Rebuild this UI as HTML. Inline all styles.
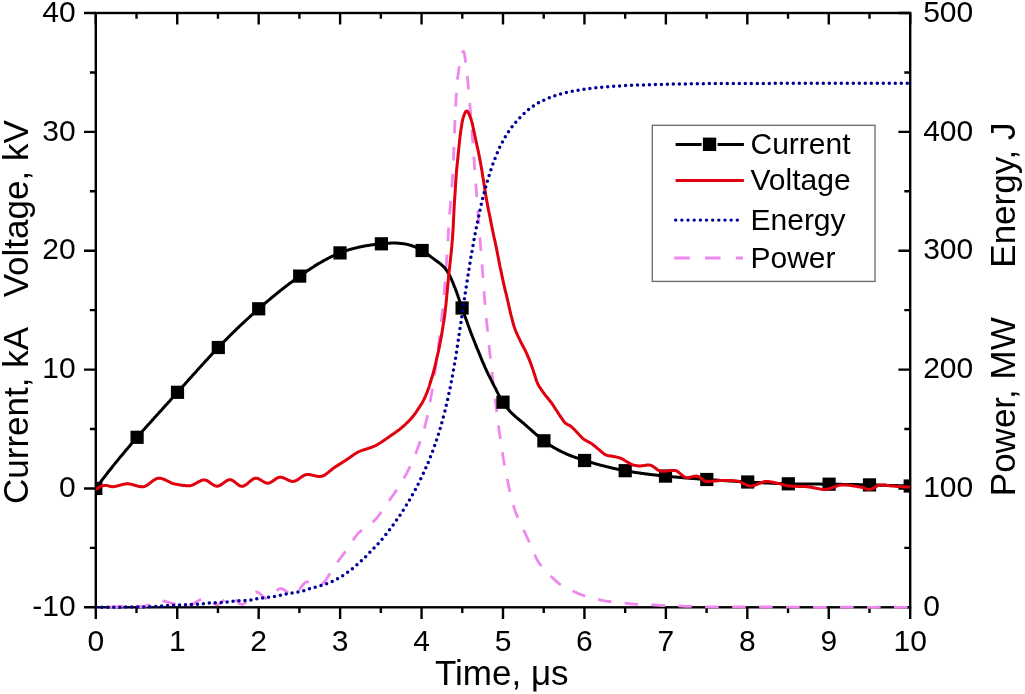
<!DOCTYPE html>
<html><head><meta charset="utf-8"><style>
html,body{margin:0;padding:0;background:#fff;width:1025px;height:694px;overflow:hidden}
svg{display:block;will-change:transform;font-family:"Liberation Sans",sans-serif}
</style></head><body>
<svg width="1025" height="694" viewBox="0 0 1025 694">
<defs><clipPath id="pc"><rect x="95.80" y="11.00" width="814.40" height="598.30"/></clipPath></defs>
<g stroke="#000" stroke-width="2.4" fill="none">
<rect x="95.80" y="13.00" width="814.40" height="594.30"/>
<path d="M95.80,607.30V618.90 M95.80,13.00V24.60 M136.52,607.30V613.10 M136.52,13.00V18.80 M177.24,607.30V618.90 M177.24,13.00V24.60 M217.96,607.30V613.10 M217.96,13.00V18.80 M258.68,607.30V618.90 M258.68,13.00V24.60 M299.40,607.30V613.10 M299.40,13.00V18.80 M340.12,607.30V618.90 M340.12,13.00V24.60 M380.84,607.30V613.10 M380.84,13.00V18.80 M421.56,607.30V618.90 M421.56,13.00V24.60 M462.28,607.30V613.10 M462.28,13.00V18.80 M503.00,607.30V618.90 M503.00,13.00V24.60 M543.72,607.30V613.10 M543.72,13.00V18.80 M584.44,607.30V618.90 M584.44,13.00V24.60 M625.16,607.30V613.10 M625.16,13.00V18.80 M665.88,607.30V618.90 M665.88,13.00V24.60 M706.60,607.30V613.10 M706.60,13.00V18.80 M747.32,607.30V618.90 M747.32,13.00V24.60 M788.04,607.30V613.10 M788.04,13.00V18.80 M828.76,607.30V618.90 M828.76,13.00V24.60 M869.48,607.30V613.10 M869.48,13.00V18.80 M910.20,607.30V618.90 M910.20,13.00V24.60 M95.80,607.30H84.00 M910.20,607.30H898.40 M95.80,547.87H89.90 M910.20,547.87H904.30 M95.80,488.44H84.00 M910.20,488.44H898.40 M95.80,429.01H89.90 M910.20,429.01H904.30 M95.80,369.58H84.00 M910.20,369.58H898.40 M95.80,310.15H89.90 M910.20,310.15H904.30 M95.80,250.72H84.00 M910.20,250.72H898.40 M95.80,191.29H89.90 M910.20,191.29H904.30 M95.80,131.86H84.00 M910.20,131.86H898.40 M95.80,72.43H89.90 M910.20,72.43H904.30 M95.80,13.00H84.00 M910.20,13.00H898.40"/>
</g>
<g clip-path="url(#pc)" fill="none">
<path d="M95.8,607.3 L96.2,607.3 L96.6,607.3 L97.0,607.3 L97.4,607.3 L97.8,607.3 L98.2,607.3 L98.7,607.3 L99.1,607.3 L99.5,607.2 L99.9,607.2 L100.3,607.2 L100.7,607.2 L101.1,607.2 L101.5,607.2 L101.9,607.1 L102.3,607.1 L102.7,607.1 L103.1,607.1 L103.5,607.1 L103.9,607.0 L104.4,607.0 L104.8,607.0 L105.2,607.0 L105.6,607.0 L106.0,607.0 L106.4,606.9 L106.8,606.9 L107.2,606.9 L107.6,606.9 L108.0,606.9 L108.4,606.9 L108.8,607.0 L109.2,607.0 L109.6,607.0 L110.1,607.0 L110.5,607.0 L110.9,607.0 L111.3,607.0 L111.7,607.0 L112.1,607.0 L112.5,607.0 L112.9,607.0 L113.3,607.0 L113.7,606.9 L114.1,606.9 L114.5,606.9 L114.9,606.9 L115.3,606.9 L115.8,606.8 L116.2,606.8 L116.6,606.8 L117.0,606.7 L117.4,606.7 L117.8,606.7 L118.2,606.6 L118.6,606.6 L119.0,606.6 L119.4,606.5 L119.8,606.5 L120.2,606.4 L120.6,606.4 L121.0,606.3 L121.5,606.3 L121.9,606.2 L122.3,606.2 L122.7,606.2 L123.1,606.1 L123.5,606.1 L123.9,606.0 L124.3,606.0 L124.7,605.9 L125.1,605.9 L125.5,605.9 L125.9,605.8 L126.3,605.8 L126.7,605.8 L127.2,605.8 L127.6,605.7 L128.0,605.7 L128.4,605.7 L128.8,605.7 L129.2,605.7 L129.6,605.7 L130.0,605.7 L130.4,605.7 L130.8,605.7 L131.2,605.7 L131.6,605.8 L132.0,605.8 L132.4,605.8 L132.9,605.8 L133.3,605.9 L133.7,605.9 L134.1,605.9 L134.5,606.0 L134.9,606.0 L135.3,606.1 L135.7,606.1 L136.1,606.1 L136.5,606.2 L136.9,606.2 L137.3,606.2 L137.7,606.3 L138.1,606.3 L138.6,606.4 L139.0,606.4 L139.4,606.4 L139.8,606.4 L140.2,606.5 L140.6,606.5 L141.0,606.5 L141.4,606.5 L141.8,606.5 L142.2,606.5 L142.6,606.5 L143.0,606.5 L143.4,606.4 L143.8,606.4 L144.3,606.3 L144.7,606.3 L145.1,606.2 L145.5,606.1 L145.9,605.9 L146.3,605.8 L146.7,605.7 L147.1,605.5 L147.5,605.4 L147.9,605.2 L148.3,605.1 L148.7,604.9 L149.1,604.7 L149.6,604.5 L150.0,604.3 L150.4,604.1 L150.8,603.9 L151.2,603.7 L151.6,603.5 L152.0,603.3 L152.4,603.1 L152.8,602.9 L153.2,602.7 L153.6,602.5 L154.0,602.3 L154.4,602.1 L154.8,602.0 L155.3,601.8 L155.7,601.6 L156.1,601.5 L156.5,601.3 L156.9,601.2 L157.3,601.1 L157.7,601.0 L158.1,600.9 L158.5,600.8 L158.9,600.8 L159.3,600.8 L159.7,600.7 L160.1,600.7 L160.5,600.7 L161.0,600.7 L161.4,600.8 L161.8,600.8 L162.2,600.8 L162.6,600.9 L163.0,600.9 L163.4,601.0 L163.8,601.1 L164.2,601.2 L164.6,601.2 L165.0,601.3 L165.4,601.4 L165.8,601.5 L166.2,601.6 L166.7,601.8 L167.1,601.9 L167.5,602.0 L167.9,602.1 L168.3,602.2 L168.7,602.4 L169.1,602.5 L169.5,602.6 L169.9,602.7 L170.3,602.8 L170.7,603.0 L171.1,603.1 L171.5,603.2 L171.9,603.3 L172.4,603.4 L172.8,603.5 L173.2,603.6 L173.6,603.7 L174.0,603.7 L174.4,603.8 L174.8,603.9 L175.2,603.9 L175.6,603.9 L176.0,604.0 L176.4,604.0 L176.8,604.1 L177.2,604.1 L177.6,604.2 L178.1,604.2 L178.5,604.2 L178.9,604.3 L179.3,604.3 L179.7,604.4 L180.1,604.4 L180.5,604.5 L180.9,604.5 L181.3,604.5 L181.7,604.6 L182.1,604.6 L182.5,604.6 L182.9,604.7 L183.3,604.7 L183.8,604.7 L184.2,604.8 L184.6,604.8 L185.0,604.8 L185.4,604.8 L185.8,604.8 L186.2,604.9 L186.6,604.9 L187.0,604.9 L187.4,604.9 L187.8,604.9 L188.2,604.9 L188.6,604.9 L189.0,604.9 L189.5,604.9 L189.9,604.8 L190.3,604.7 L190.7,604.7 L191.1,604.5 L191.5,604.4 L191.9,604.3 L192.3,604.1 L192.7,604.0 L193.1,603.8 L193.5,603.6 L193.9,603.4 L194.3,603.2 L194.7,602.9 L195.2,602.7 L195.6,602.5 L196.0,602.2 L196.4,602.0 L196.8,601.7 L197.2,601.5 L197.6,601.2 L198.0,601.0 L198.4,600.7 L198.8,600.5 L199.2,600.2 L199.6,600.0 L200.0,599.8 L200.5,599.6 L200.9,599.4 L201.3,599.2 L201.7,599.0 L202.1,598.8 L202.5,598.7 L202.9,598.6 L203.3,598.5 L203.7,598.4 L204.1,598.4 L204.5,598.4 L204.9,598.4 L205.3,598.4 L205.7,598.5 L206.2,598.6 L206.6,598.8 L207.0,598.9 L207.4,599.1 L207.8,599.4 L208.2,599.6 L208.6,599.9 L209.0,600.1 L209.4,600.4 L209.8,600.7 L210.2,601.0 L210.6,601.3 L211.0,601.6 L211.4,601.9 L211.9,602.2 L212.3,602.5 L212.7,602.8 L213.1,603.1 L213.5,603.4 L213.9,603.6 L214.3,603.9 L214.7,604.1 L215.1,604.2 L215.5,604.4 L215.9,604.5 L216.3,604.6 L216.7,604.7 L217.1,604.7 L217.6,604.6 L218.0,604.6 L218.4,604.4 L218.8,604.3 L219.2,604.1 L219.6,603.9 L220.0,603.6 L220.4,603.3 L220.8,603.0 L221.2,602.7 L221.6,602.3 L222.0,602.0 L222.4,601.6 L222.8,601.2 L223.3,600.8 L223.7,600.4 L224.1,600.0 L224.5,599.6 L224.9,599.2 L225.3,598.9 L225.7,598.5 L226.1,598.1 L226.5,597.8 L226.9,597.5 L227.3,597.2 L227.7,596.9 L228.1,596.7 L228.5,596.5 L229.0,596.3 L229.4,596.2 L229.8,596.1 L230.2,596.1 L230.6,596.1 L231.0,596.2 L231.4,596.3 L231.8,596.5 L232.2,596.7 L232.6,596.9 L233.0,597.2 L233.4,597.5 L233.8,597.9 L234.2,598.3 L234.7,598.7 L235.1,599.1 L235.5,599.5 L235.9,599.9 L236.3,600.3 L236.7,600.8 L237.1,601.2 L237.5,601.6 L237.9,602.0 L238.3,602.4 L238.7,602.8 L239.1,603.1 L239.5,603.4 L239.9,603.7 L240.4,603.9 L240.8,604.1 L241.2,604.2 L241.6,604.3 L242.0,604.3 L242.4,604.3 L242.8,604.2 L243.2,604.1 L243.6,603.9 L244.0,603.7 L244.4,603.4 L244.8,603.1 L245.2,602.7 L245.6,602.4 L246.1,601.9 L246.5,601.5 L246.9,601.0 L247.3,600.6 L247.7,600.1 L248.1,599.6 L248.5,599.0 L248.9,598.5 L249.3,598.0 L249.7,597.5 L250.1,596.9 L250.5,596.4 L250.9,595.9 L251.4,595.4 L251.8,595.0 L252.2,594.5 L252.6,594.1 L253.0,593.7 L253.4,593.3 L253.8,593.0 L254.2,592.7 L254.6,592.5 L255.0,592.3 L255.4,592.1 L255.8,592.0 L256.2,592.0 L256.6,592.0 L257.1,592.1 L257.5,592.2 L257.9,592.4 L258.3,592.6 L258.7,592.8 L259.1,593.1 L259.5,593.4 L259.9,593.7 L260.3,594.0 L260.7,594.4 L261.1,594.8 L261.5,595.1 L261.9,595.5 L262.3,595.9 L262.8,596.3 L263.2,596.6 L263.6,597.0 L264.0,597.3 L264.4,597.6 L264.8,597.9 L265.2,598.2 L265.6,598.5 L266.0,598.7 L266.4,598.8 L266.8,598.9 L267.2,599.0 L267.6,599.0 L268.0,599.0 L268.5,598.9 L268.9,598.8 L269.3,598.6 L269.7,598.3 L270.1,598.0 L270.5,597.7 L270.9,597.4 L271.3,597.0 L271.7,596.6 L272.1,596.1 L272.5,595.7 L272.9,595.2 L273.3,594.7 L273.7,594.2 L274.2,593.7 L274.6,593.2 L275.0,592.7 L275.4,592.2 L275.8,591.8 L276.2,591.3 L276.6,590.9 L277.0,590.5 L277.4,590.1 L277.8,589.7 L278.2,589.4 L278.6,589.2 L279.0,588.9 L279.4,588.8 L279.9,588.7 L280.3,588.6 L280.7,588.6 L281.1,588.6 L281.5,588.7 L281.9,588.8 L282.3,589.0 L282.7,589.1 L283.1,589.3 L283.5,589.6 L283.9,589.8 L284.3,590.1 L284.7,590.3 L285.1,590.6 L285.6,590.9 L286.0,591.3 L286.4,591.6 L286.8,591.9 L287.2,592.2 L287.6,592.5 L288.0,592.8 L288.4,593.1 L288.8,593.4 L289.2,593.7 L289.6,594.0 L290.0,594.2 L290.4,594.4 L290.8,594.6 L291.3,594.8 L291.7,594.9 L292.1,595.0 L292.5,595.0 L292.9,595.0 L293.3,595.0 L293.7,594.9 L294.1,594.7 L294.5,594.5 L294.9,594.3 L295.3,594.0 L295.7,593.7 L296.1,593.3 L296.5,592.9 L297.0,592.5 L297.4,592.0 L297.8,591.5 L298.2,591.1 L298.6,590.5 L299.0,590.0 L299.4,589.5 L299.8,588.9 L300.2,588.4 L300.6,587.8 L301.0,587.3 L301.4,586.7 L301.8,586.2 L302.3,585.7 L302.7,585.2 L303.1,584.7 L303.5,584.3 L303.9,583.8 L304.3,583.4 L304.7,583.1 L305.1,582.7 L305.5,582.5 L305.9,582.2 L306.3,582.0 L306.7,581.9 L307.1,581.8 L307.5,581.8 L308.0,581.8 L308.4,581.8 L308.8,581.8 L309.2,581.8 L309.6,581.9 L310.0,582.0 L310.4,582.1 L310.8,582.2 L311.2,582.3 L311.6,582.4 L312.0,582.6 L312.4,582.7 L312.8,582.9 L313.2,583.0 L313.7,583.2 L314.1,583.3 L314.5,583.5 L314.9,583.6 L315.3,583.8 L315.7,583.9 L316.1,584.0 L316.5,584.1 L316.9,584.3 L317.3,584.4 L317.7,584.5 L318.1,584.5 L318.5,584.6 L318.9,584.6 L319.4,584.6 L319.8,584.6 L320.2,584.6 L320.6,584.6 L321.0,584.4 L321.4,584.3 L321.8,584.1 L322.2,583.8 L322.6,583.5 L323.0,583.2 L323.4,582.8 L323.8,582.4 L324.2,582.0 L324.6,581.5 L325.1,581.0 L325.5,580.5 L325.9,579.9 L326.3,579.3 L326.7,578.8 L327.1,578.1 L327.5,577.5 L327.9,576.9 L328.3,576.2 L328.7,575.5 L329.1,574.9 L329.5,574.2 L329.9,573.5 L330.3,572.8 L330.8,572.1 L331.2,571.4 L331.6,570.7 L332.0,570.0 L332.4,569.4 L332.8,568.7 L333.2,568.1 L333.6,567.4 L334.0,566.8 L334.4,566.2 L334.8,565.6 L335.2,565.1 L335.6,564.5 L336.0,564.0 L336.5,563.4 L336.9,562.9 L337.3,562.4 L337.7,561.8 L338.1,561.3 L338.5,560.7 L338.9,560.2 L339.3,559.6 L339.7,559.1 L340.1,558.6 L340.5,558.0 L340.9,557.5 L341.3,556.9 L341.7,556.4 L342.2,555.8 L342.6,555.3 L343.0,554.7 L343.4,554.2 L343.8,553.6 L344.2,553.1 L344.6,552.5 L345.0,551.9 L345.4,551.4 L345.8,550.8 L346.2,550.3 L346.6,549.7 L347.0,549.1 L347.4,548.6 L347.9,548.0 L348.3,547.4 L348.7,546.8 L349.1,546.2 L349.5,545.6 L349.9,545.0 L350.3,544.3 L350.7,543.7 L351.1,543.1 L351.5,542.5 L351.9,541.9 L352.3,541.2 L352.7,540.6 L353.2,540.0 L353.6,539.4 L354.0,538.8 L354.4,538.2 L354.8,537.6 L355.2,537.1 L355.6,536.5 L356.0,536.0 L356.4,535.5 L356.8,535.0 L357.2,534.5 L357.6,534.0 L358.0,533.5 L358.4,533.1 L358.9,532.7 L359.3,532.3 L359.7,531.9 L360.1,531.6 L360.5,531.2 L360.9,530.8 L361.3,530.5 L361.7,530.2 L362.1,529.8 L362.5,529.5 L362.9,529.2 L363.3,528.9 L363.7,528.6 L364.1,528.3 L364.6,528.0 L365.0,527.7 L365.4,527.5 L365.8,527.2 L366.2,526.9 L366.6,526.6 L367.0,526.3 L367.4,526.1 L367.8,525.8 L368.2,525.5 L368.6,525.2 L369.0,524.9 L369.4,524.6 L369.8,524.3 L370.3,524.0 L370.7,523.7 L371.1,523.4 L371.5,523.1 L371.9,522.8 L372.3,522.4 L372.7,522.1 L373.1,521.7 L373.5,521.4 L373.9,521.0 L374.3,520.6 L374.7,520.2 L375.1,519.8 L375.5,519.3 L376.0,518.9 L376.4,518.4 L376.8,518.0 L377.2,517.5 L377.6,517.0 L378.0,516.5 L378.4,516.0 L378.8,515.5 L379.2,515.0 L379.6,514.4 L380.0,513.9 L380.4,513.4 L380.8,512.8 L381.2,512.2 L381.7,511.7 L382.1,511.1 L382.5,510.5 L382.9,509.9 L383.3,509.3 L383.7,508.8 L384.1,508.2 L384.5,507.6 L384.9,507.0 L385.3,506.4 L385.7,505.8 L386.1,505.2 L386.5,504.6 L386.9,503.9 L387.4,503.3 L387.8,502.7 L388.2,502.1 L388.6,501.5 L389.0,500.9 L389.4,500.3 L389.8,499.8 L390.2,499.2 L390.6,498.6 L391.0,498.0 L391.4,497.4 L391.8,496.8 L392.2,496.3 L392.6,495.7 L393.1,495.1 L393.5,494.6 L393.9,494.0 L394.3,493.4 L394.7,492.8 L395.1,492.2 L395.5,491.7 L395.9,491.1 L396.3,490.5 L396.7,489.9 L397.1,489.3 L397.5,488.7 L397.9,488.1 L398.3,487.4 L398.8,486.8 L399.2,486.2 L399.6,485.5 L400.0,484.9 L400.4,484.2 L400.8,483.5 L401.2,482.9 L401.6,482.2 L402.0,481.5 L402.4,480.8 L402.8,480.1 L403.2,479.4 L403.6,478.7 L404.1,478.0 L404.5,477.2 L404.9,476.5 L405.3,475.8 L405.7,475.0 L406.1,474.3 L406.5,473.6 L406.9,472.8 L407.3,472.0 L407.7,471.2 L408.1,470.5 L408.5,469.7 L408.9,468.9 L409.3,468.1 L409.8,467.2 L410.2,466.4 L410.6,465.6 L411.0,464.7 L411.4,463.9 L411.8,463.0 L412.2,462.1 L412.6,461.2 L413.0,460.3 L413.4,459.4 L413.8,458.5 L414.2,457.5 L414.6,456.5 L415.0,455.4 L415.5,454.3 L415.9,453.2 L416.3,452.0 L416.7,450.9 L417.1,449.7 L417.5,448.6 L417.9,447.5 L418.3,446.4 L418.7,445.4 L419.1,444.3 L419.5,443.2 L419.9,442.1 L420.3,441.0 L420.7,439.8 L421.2,438.7 L421.6,437.5 L422.0,436.3 L422.4,435.1 L422.8,433.8 L423.2,432.5 L423.6,431.2 L424.0,429.8 L424.4,428.4 L424.8,426.9 L425.2,425.3 L425.6,423.7 L426.0,422.0 L426.4,420.2 L426.9,418.4 L427.3,416.5 L427.7,414.5 L428.1,412.5 L428.5,410.5 L428.9,408.4 L429.3,406.2 L429.7,404.1 L430.1,401.9 L430.5,399.6 L430.9,397.3 L431.3,395.0 L431.7,392.7 L432.2,390.3 L432.6,388.0 L433.0,385.5 L433.4,382.9 L433.8,380.3 L434.2,377.6 L434.6,374.8 L435.0,371.9 L435.4,369.0 L435.8,366.1 L436.2,363.1 L436.7,360.0 L437.1,356.9 L437.5,353.8 L437.9,350.6 L438.3,347.4 L438.7,344.2 L439.1,340.9 L439.5,337.5 L439.9,334.0 L440.4,330.5 L440.8,326.8 L441.2,323.1 L441.6,319.3 L442.0,315.4 L442.4,311.3 L442.8,307.2 L443.3,302.9 L443.7,298.5 L444.1,293.9 L444.5,289.1 L444.9,284.2 L445.3,278.9 L445.8,273.3 L446.2,267.3 L446.6,260.9 L447.0,254.3 L447.4,247.6 L447.9,240.8 L448.3,234.1 L448.7,227.6 L449.1,221.3 L449.5,215.5 L450.0,210.0 L450.4,204.9 L450.8,199.9 L451.2,194.8 L451.6,189.5 L452.1,183.9 L452.5,177.8 L452.9,171.0 L453.3,163.1 L453.7,152.9 L454.2,141.4 L454.6,129.8 L455.0,119.5 L455.4,110.7 L455.9,102.2 L456.3,94.3 L456.7,87.5 L457.1,82.0 L457.6,78.2 L458.0,75.3 L458.5,72.1 L458.9,68.8 L459.4,65.6 L459.9,62.5 L460.4,59.7 L461.0,57.3 L461.5,55.1 L462.0,53.3 L462.5,52.2 L462.9,51.7 L463.4,51.5 L463.8,51.7 L464.1,52.5 L464.4,53.9 L464.7,55.8 L465.0,57.8 L465.3,59.8 L465.6,62.0 L465.9,64.5 L466.3,67.1 L466.6,70.0 L467.0,73.1 L467.3,76.6 L467.7,80.4 L468.1,84.5 L468.5,88.8 L468.9,93.2 L469.3,97.8 L469.7,102.5 L470.1,107.3 L470.5,112.1 L470.9,116.8 L471.2,121.6 L471.6,126.6 L472.0,131.8 L472.4,137.2 L472.8,142.7 L473.2,148.3 L473.6,153.8 L474.0,159.2 L474.4,164.6 L474.8,169.9 L475.2,175.3 L475.6,180.7 L476.0,186.0 L476.4,191.3 L476.8,196.5 L477.1,201.7 L477.5,206.8 L477.9,211.8 L478.3,216.9 L478.7,222.0 L479.1,227.0 L479.5,232.1 L479.9,237.3 L480.3,242.4 L480.7,247.5 L481.1,252.7 L481.5,257.9 L481.9,263.1 L482.3,268.3 L482.7,273.6 L483.1,279.0 L483.5,284.3 L483.9,289.6 L484.3,294.7 L484.7,299.8 L485.1,304.7 L485.5,309.4 L485.9,313.9 L486.3,318.3 L486.7,322.7 L487.2,326.9 L487.6,331.1 L488.0,335.2 L488.4,339.2 L488.8,343.1 L489.2,347.0 L489.6,350.8 L490.0,354.6 L490.4,358.3 L490.8,362.1 L491.2,365.7 L491.6,369.4 L492.0,372.9 L492.4,376.4 L492.8,379.9 L493.2,383.3 L493.6,386.7 L494.0,390.1 L494.5,393.4 L494.9,396.7 L495.3,400.0 L495.7,403.2 L496.1,406.5 L496.5,409.7 L496.9,412.9 L497.3,416.1 L497.7,419.3 L498.1,422.4 L498.5,425.6 L498.9,428.7 L499.3,431.7 L499.7,434.8 L500.2,437.7 L500.6,440.6 L501.0,443.4 L501.4,446.2 L501.8,448.9 L502.2,451.5 L502.6,454.0 L503.0,456.5 L503.4,458.9 L503.8,461.2 L504.2,463.6 L504.6,465.8 L505.0,468.0 L505.4,470.2 L505.9,472.3 L506.3,474.3 L506.7,476.4 L507.1,478.4 L507.5,480.3 L507.9,482.3 L508.3,484.2 L508.7,486.1 L509.1,488.0 L509.5,489.8 L509.9,491.7 L510.3,493.4 L510.7,495.2 L511.1,496.9 L511.6,498.6 L512.0,500.2 L512.4,501.8 L512.8,503.3 L513.2,504.7 L513.6,506.1 L514.0,507.4 L514.4,508.7 L514.8,509.9 L515.2,511.0 L515.6,512.2 L516.0,513.2 L516.4,514.3 L516.8,515.3 L517.3,516.2 L517.7,517.2 L518.1,518.1 L518.5,519.1 L518.9,520.0 L519.3,520.9 L519.7,521.8 L520.1,522.7 L520.5,523.6 L520.9,524.5 L521.3,525.3 L521.7,526.2 L522.1,527.1 L522.5,527.9 L523.0,528.8 L523.4,529.6 L523.8,530.4 L524.2,531.3 L524.6,532.1 L525.0,532.9 L525.4,533.8 L525.8,534.6 L526.2,535.4 L526.6,536.3 L527.0,537.2 L527.4,538.1 L527.8,539.0 L528.2,539.9 L528.7,540.8 L529.1,541.7 L529.5,542.6 L529.9,543.5 L530.3,544.5 L530.7,545.4 L531.1,546.3 L531.5,547.2 L531.9,548.1 L532.3,549.1 L532.7,550.0 L533.1,550.9 L533.5,551.8 L533.9,552.8 L534.4,553.8 L534.8,554.7 L535.2,555.7 L535.6,556.6 L536.0,557.5 L536.4,558.4 L536.8,559.2 L537.2,559.9 L537.6,560.6 L538.0,561.3 L538.4,562.0 L538.8,562.6 L539.2,563.2 L539.6,563.8 L540.1,564.3 L540.5,564.9 L540.9,565.4 L541.3,566.0 L541.7,566.5 L542.1,567.0 L542.5,567.5 L542.9,568.0 L543.3,568.5 L543.7,568.9 L544.1,569.4 L544.5,569.9 L544.9,570.3 L545.3,570.8 L545.8,571.2 L546.2,571.7 L546.6,572.1 L547.0,572.5 L547.4,572.9 L547.8,573.3 L548.2,573.7 L548.6,574.1 L549.0,574.5 L549.4,574.8 L549.8,575.2 L550.2,575.6 L550.6,576.0 L551.0,576.4 L551.5,576.8 L551.9,577.2 L552.3,577.6 L552.7,577.9 L553.1,578.3 L553.5,578.7 L553.9,579.1 L554.3,579.5 L554.7,579.9 L555.1,580.2 L555.5,580.6 L555.9,581.0 L556.3,581.3 L556.8,581.7 L557.2,582.0 L557.6,582.4 L558.0,582.7 L558.4,583.1 L558.8,583.4 L559.2,583.7 L559.6,584.1 L560.0,584.4 L560.4,584.7 L560.8,585.0 L561.2,585.3 L561.6,585.6 L562.0,585.9 L562.5,586.2 L562.9,586.5 L563.3,586.8 L563.7,587.1 L564.1,587.3 L564.5,587.6 L564.9,587.8 L565.3,588.0 L565.7,588.2 L566.1,588.4 L566.5,588.6 L566.9,588.7 L567.3,588.9 L567.7,589.1 L568.2,589.2 L568.6,589.4 L569.0,589.5 L569.4,589.6 L569.8,589.8 L570.2,589.9 L570.6,590.1 L571.0,590.3 L571.4,590.4 L571.8,590.6 L572.2,590.8 L572.6,591.0 L573.0,591.1 L573.4,591.3 L573.9,591.5 L574.3,591.7 L574.7,591.9 L575.1,592.1 L575.5,592.3 L575.9,592.4 L576.3,592.6 L576.7,592.8 L577.1,593.0 L577.5,593.2 L577.9,593.3 L578.3,593.5 L578.7,593.7 L579.1,593.8 L579.6,594.0 L580.0,594.2 L580.4,594.4 L580.8,594.5 L581.2,594.7 L581.6,594.8 L582.0,595.0 L582.4,595.2 L582.8,595.3 L583.2,595.4 L583.6,595.6 L584.0,595.7 L584.4,595.8 L584.8,595.9 L585.3,596.0 L585.7,596.1 L586.1,596.3 L586.5,596.4 L586.9,596.5 L587.3,596.6 L587.7,596.6 L588.1,596.7 L588.5,596.8 L588.9,596.9 L589.3,597.0 L589.7,597.1 L590.1,597.2 L590.5,597.3 L591.0,597.4 L591.4,597.5 L591.8,597.6 L592.2,597.7 L592.6,597.8 L593.0,597.9 L593.4,598.1 L593.8,598.2 L594.2,598.3 L594.6,598.4 L595.0,598.5 L595.4,598.6 L595.8,598.7 L596.2,598.8 L596.7,599.0 L597.1,599.1 L597.5,599.2 L597.9,599.3 L598.3,599.4 L598.7,599.5 L599.1,599.6 L599.5,599.7 L599.9,599.8 L600.3,599.9 L600.7,600.0 L601.1,600.1 L601.5,600.2 L601.9,600.3 L602.4,600.4 L602.8,600.5 L603.2,600.6 L603.6,600.7 L604.0,600.8 L604.4,600.9 L604.8,600.9 L605.2,601.0 L605.6,601.1 L606.0,601.1 L606.4,601.2 L606.8,601.2 L607.2,601.3 L607.7,601.3 L608.1,601.4 L608.5,601.4 L608.9,601.5 L609.3,601.5 L609.7,601.5 L610.1,601.6 L610.5,601.6 L610.9,601.7 L611.3,601.7 L611.7,601.7 L612.1,601.8 L612.5,601.8 L612.9,601.8 L613.4,601.9 L613.8,601.9 L614.2,601.9 L614.6,602.0 L615.0,602.0 L615.4,602.1 L615.8,602.1 L616.2,602.1 L616.6,602.2 L617.0,602.2 L617.4,602.2 L617.8,602.3 L618.2,602.3 L618.6,602.4 L619.1,602.4 L619.5,602.4 L619.9,602.5 L620.3,602.5 L620.7,602.6 L621.1,602.6 L621.5,602.7 L621.9,602.7 L622.3,602.8 L622.7,602.8 L623.1,602.9 L623.5,602.9 L623.9,603.0 L624.3,603.0 L624.8,603.1 L625.2,603.2 L625.6,603.2 L626.0,603.3 L626.4,603.3 L626.8,603.4 L627.2,603.4 L627.6,603.5 L628.0,603.5 L628.4,603.6 L628.8,603.6 L629.2,603.7 L629.6,603.7 L630.0,603.8 L630.5,603.8 L630.9,603.9 L631.3,603.9 L631.7,604.0 L632.1,604.0 L632.5,604.0 L632.9,604.1 L633.3,604.1 L633.7,604.1 L634.1,604.1 L634.5,604.2 L634.9,604.2 L635.3,604.2 L635.7,604.2 L636.2,604.2 L636.6,604.3 L637.0,604.3 L637.4,604.3 L637.8,604.3 L638.2,604.3 L638.6,604.3 L639.0,604.4 L639.4,604.4 L639.8,604.4 L640.2,604.4 L640.6,604.4 L641.0,604.4 L641.4,604.4 L641.9,604.4 L642.3,604.4 L642.7,604.4 L643.1,604.4 L643.5,604.4 L643.9,604.4 L644.3,604.5 L644.7,604.5 L645.1,604.5 L645.5,604.5 L645.9,604.5 L646.3,604.5 L646.7,604.5 L647.1,604.5 L647.6,604.5 L648.0,604.5 L648.4,604.5 L648.8,604.5 L649.2,604.5 L649.6,604.5 L650.0,604.5 L650.4,604.6 L650.8,604.6 L651.2,604.6 L651.6,604.7 L652.0,604.7 L652.4,604.7 L652.8,604.8 L653.3,604.8 L653.7,604.8 L654.1,604.9 L654.5,604.9 L654.9,605.0 L655.3,605.0 L655.7,605.0 L656.1,605.1 L656.5,605.1 L656.9,605.2 L657.3,605.2 L657.7,605.2 L658.1,605.3 L658.6,605.3 L659.0,605.3 L659.4,605.4 L659.8,605.4 L660.2,605.4 L660.6,605.4 L661.0,605.4 L661.4,605.5 L661.8,605.5 L662.2,605.5 L662.6,605.5 L663.0,605.5 L663.4,605.5 L663.8,605.5 L664.3,605.5 L664.7,605.5 L665.1,605.5 L665.5,605.5 L665.9,605.5 L666.3,605.5 L666.7,605.5 L667.1,605.5 L667.5,605.5 L667.9,605.5 L668.3,605.5 L668.7,605.5 L669.1,605.5 L669.5,605.5 L670.0,605.5 L670.4,605.5 L670.8,605.5 L671.2,605.5 L671.6,605.5 L672.0,605.5 L672.4,605.5 L672.8,605.5 L673.2,605.5 L673.6,605.5 L674.0,605.6 L674.4,605.6 L674.8,605.6 L675.2,605.6 L675.7,605.6 L676.1,605.6 L676.5,605.6 L676.9,605.7 L677.3,605.7 L677.7,605.7 L678.1,605.7 L678.5,605.8 L678.9,605.8 L679.3,605.9 L679.7,605.9 L680.1,605.9 L680.5,606.0 L680.9,606.0 L681.4,606.0 L681.8,606.1 L682.2,606.1 L682.6,606.1 L683.0,606.2 L683.4,606.2 L683.8,606.2 L684.2,606.3 L684.6,606.3 L685.0,606.3 L685.4,606.3 L685.8,606.3 L686.2,606.3 L686.6,606.4 L687.1,606.4 L687.5,606.4 L687.9,606.4 L688.3,606.4 L688.7,606.4 L689.1,606.4 L689.5,606.4 L689.9,606.3 L690.3,606.3 L690.7,606.3 L691.1,606.3 L691.5,606.3 L691.9,606.3 L692.3,606.3 L692.8,606.3 L693.2,606.3 L693.6,606.3 L694.0,606.3 L694.4,606.3 L694.8,606.3 L695.2,606.3 L695.6,606.3 L696.0,606.3 L696.4,606.3 L696.8,606.3 L697.2,606.3 L697.6,606.3 L698.0,606.3 L698.5,606.4 L698.9,606.4 L699.3,606.4 L699.7,606.4 L700.1,606.4 L700.5,606.5 L700.9,606.5 L701.3,606.5 L701.7,606.5 L702.1,606.6 L702.5,606.6 L702.9,606.6 L703.3,606.7 L703.7,606.7 L704.2,606.7 L704.6,606.7 L705.0,606.7 L705.4,606.8 L705.8,606.8 L706.2,606.8 L706.6,606.8 L707.0,606.8 L707.4,606.8 L707.8,606.8 L708.2,606.8 L708.6,606.8 L709.0,606.8 L709.5,606.8 L709.9,606.8 L710.3,606.8 L710.7,606.8 L711.1,606.8 L711.5,606.8 L711.9,606.8 L712.3,606.8 L712.7,606.8 L713.1,606.8 L713.5,606.8 L713.9,606.8 L714.3,606.8 L714.7,606.8 L715.2,606.8 L715.6,606.8 L716.0,606.8 L716.4,606.8 L716.8,606.8 L717.2,606.8 L717.6,606.8 L718.0,606.8 L718.4,606.8 L718.8,606.8 L719.2,606.8 L719.6,606.8 L720.0,606.8 L720.4,606.8 L720.9,606.8 L721.3,606.8 L721.7,606.8 L722.1,606.8 L722.5,606.8 L722.9,606.8 L723.3,606.8 L723.7,606.8 L724.1,606.8 L724.5,606.8 L724.9,606.8 L725.3,606.8 L725.7,606.8 L726.1,606.8 L726.6,606.8 L727.0,606.8 L727.4,606.8 L727.8,606.8 L728.2,606.8 L728.6,606.8 L729.0,606.8 L729.4,606.8 L729.8,606.8 L730.2,606.8 L730.6,606.8 L731.0,606.8 L731.4,606.8 L731.8,606.8 L732.3,606.8 L732.7,606.8 L733.1,606.8 L733.5,606.8 L733.9,606.8 L734.3,606.8 L734.7,606.8 L735.1,606.8 L735.5,606.9 L735.9,606.9 L736.3,606.9 L736.7,606.9 L737.1,606.9 L737.5,606.9 L738.0,606.9 L738.4,606.9 L738.8,606.9 L739.2,606.9 L739.6,606.9 L740.0,606.9 L740.4,606.9 L740.8,606.9 L741.2,607.0 L741.6,607.0 L742.0,607.0 L742.4,607.0 L742.8,607.0 L743.2,607.0 L743.7,607.0 L744.1,607.0 L744.5,607.1 L744.9,607.1 L745.3,607.1 L745.7,607.1 L746.1,607.1 L746.5,607.1 L746.9,607.1 L747.3,607.1 L747.7,607.1 L748.1,607.1 L748.5,607.2 L748.9,607.2 L749.4,607.2 L749.8,607.2 L750.2,607.2 L750.6,607.2 L751.0,607.2 L751.4,607.2 L751.8,607.2 L752.2,607.2 L752.6,607.2 L753.0,607.2 L753.4,607.2 L753.8,607.1 L754.2,607.1 L754.6,607.1 L755.1,607.1 L755.5,607.1 L755.9,607.1 L756.3,607.1 L756.7,607.1 L757.1,607.1 L757.5,607.1 L757.9,607.1 L758.3,607.1 L758.7,607.1 L759.1,607.1 L759.5,607.0 L759.9,607.0 L760.4,607.0 L760.8,607.0 L761.2,607.0 L761.6,607.0 L762.0,607.0 L762.4,607.0 L762.8,607.0 L763.2,607.0 L763.6,607.0 L764.0,607.0 L764.4,607.0 L764.8,607.0 L765.2,607.0 L765.6,607.0 L766.1,607.0 L766.5,607.0 L766.9,607.0 L767.3,607.0 L767.7,607.0 L768.1,607.0 L768.5,607.0 L768.9,607.0 L769.3,607.0 L769.7,607.0 L770.1,607.0 L770.5,607.0 L770.9,607.0 L771.3,607.0 L771.8,607.0 L772.2,607.0 L772.6,607.0 L773.0,607.0 L773.4,607.0 L773.8,607.0 L774.2,607.0 L774.6,607.1 L775.0,607.1 L775.4,607.1 L775.8,607.1 L776.2,607.1 L776.6,607.1 L777.0,607.1 L777.5,607.1 L777.9,607.1 L778.3,607.1 L778.7,607.1 L779.1,607.1 L779.5,607.1 L779.9,607.1 L780.3,607.1 L780.7,607.1 L781.1,607.1 L781.5,607.1 L781.9,607.1 L782.3,607.1 L782.7,607.1 L783.2,607.1 L783.6,607.2 L784.0,607.2 L784.4,607.2 L784.8,607.2 L785.2,607.2 L785.6,607.2 L786.0,607.2 L786.4,607.2 L786.8,607.2 L787.2,607.2 L787.6,607.2 L788.0,607.2 L788.4,607.2 L788.9,607.2 L789.3,607.2 L789.7,607.2 L790.1,607.2 L790.5,607.2 L790.9,607.2 L791.3,607.2 L791.7,607.2 L792.1,607.2 L792.5,607.2 L792.9,607.2 L793.3,607.2 L793.7,607.2 L794.1,607.2 L794.6,607.2 L795.0,607.2 L795.4,607.2 L795.8,607.2 L796.2,607.2 L796.6,607.2 L797.0,607.2 L797.4,607.2 L797.8,607.2 L798.2,607.2 L798.6,607.2 L799.0,607.2 L799.4,607.2 L799.8,607.2 L800.3,607.2 L800.7,607.2 L801.1,607.2 L801.5,607.2 L801.9,607.2 L802.3,607.2 L802.7,607.2 L803.1,607.2 L803.5,607.2 L803.9,607.2 L804.3,607.2 L804.7,607.2 L805.1,607.2 L805.5,607.2 L806.0,607.2 L806.4,607.2 L806.8,607.2 L807.2,607.2 L807.6,607.2 L808.0,607.2 L808.4,607.2 L808.8,607.2 L809.2,607.2 L809.6,607.2 L810.0,607.3 L810.4,607.3 L810.8,607.3 L811.3,607.3 L811.7,607.3 L812.1,607.3 L812.5,607.3 L812.9,607.3 L813.3,607.3 L813.7,607.3 L814.1,607.3 L814.5,607.3 L814.9,607.3 L815.3,607.3 L815.7,607.3 L816.1,607.3 L816.5,607.3 L817.0,607.3 L817.4,607.3 L817.8,607.3 L818.2,607.3 L818.6,607.3 L819.0,607.3 L819.4,607.3 L819.8,607.3 L820.2,607.3 L820.6,607.3 L821.0,607.3 L821.4,607.3 L821.8,607.3 L822.2,607.3 L822.7,607.3 L823.1,607.3 L823.5,607.3 L823.9,607.3 L824.3,607.3 L824.7,607.3 L825.1,607.3 L825.5,607.3 L825.9,607.3 L826.3,607.3 L826.7,607.3 L827.1,607.3 L827.5,607.3 L827.9,607.3 L828.4,607.3 L828.8,607.3 L829.2,607.3 L829.6,607.3 L830.0,607.3 L830.4,607.3 L830.8,607.3 L831.2,607.3 L831.6,607.3 L832.0,607.3 L832.4,607.3 L832.8,607.3 L833.2,607.3 L833.6,607.3 L834.1,607.2 L834.5,607.2 L834.9,607.2 L835.3,607.2 L835.7,607.2 L836.1,607.2 L836.5,607.2 L836.9,607.2 L837.3,607.2 L837.7,607.2 L838.1,607.2 L838.5,607.2 L838.9,607.2 L839.3,607.2 L839.8,607.2 L840.2,607.2 L840.6,607.2 L841.0,607.2 L841.4,607.2 L841.8,607.2 L842.2,607.2 L842.6,607.2 L843.0,607.2 L843.4,607.2 L843.8,607.2 L844.2,607.2 L844.6,607.2 L845.0,607.2 L845.5,607.2 L845.9,607.2 L846.3,607.2 L846.7,607.2 L847.1,607.2 L847.5,607.2 L847.9,607.2 L848.3,607.2 L848.7,607.2 L849.1,607.2 L849.5,607.2 L849.9,607.2 L850.3,607.2 L850.7,607.2 L851.2,607.2 L851.6,607.2 L852.0,607.2 L852.4,607.2 L852.8,607.2 L853.2,607.2 L853.6,607.2 L854.0,607.2 L854.4,607.2 L854.8,607.2 L855.2,607.2 L855.6,607.2 L856.0,607.2 L856.4,607.2 L856.9,607.2 L857.3,607.2 L857.7,607.2 L858.1,607.2 L858.5,607.2 L858.9,607.2 L859.3,607.3 L859.7,607.3 L860.1,607.3 L860.5,607.3 L860.9,607.3 L861.3,607.3 L861.7,607.3 L862.2,607.3 L862.6,607.3 L863.0,607.3 L863.4,607.3 L863.8,607.3 L864.2,607.3 L864.6,607.3 L865.0,607.3 L865.4,607.3 L865.8,607.3 L866.2,607.3 L866.6,607.3 L867.0,607.3 L867.4,607.3 L867.9,607.3 L868.3,607.3 L868.7,607.3 L869.1,607.3 L869.5,607.3 L869.9,607.3 L870.3,607.3 L870.7,607.3 L871.1,607.3 L871.5,607.3 L871.9,607.3 L872.3,607.3 L872.7,607.3 L873.1,607.3 L873.6,607.3 L874.0,607.3 L874.4,607.3 L874.8,607.3 L875.2,607.3 L875.6,607.3 L876.0,607.2 L876.4,607.2 L876.8,607.2 L877.2,607.2 L877.6,607.2 L878.0,607.2 L878.4,607.2 L878.8,607.2 L879.3,607.2 L879.7,607.2 L880.1,607.2 L880.5,607.2 L880.9,607.2 L881.3,607.2 L881.7,607.2 L882.1,607.2 L882.5,607.2 L882.9,607.2 L883.3,607.2 L883.7,607.2 L884.1,607.2 L884.5,607.2 L885.0,607.2 L885.4,607.2 L885.8,607.2 L886.2,607.2 L886.6,607.2 L887.0,607.2 L887.4,607.2 L887.8,607.2 L888.2,607.2 L888.6,607.2 L889.0,607.2 L889.4,607.2 L889.8,607.2 L890.2,607.2 L890.7,607.2 L891.1,607.2 L891.5,607.2 L891.9,607.2 L892.3,607.2 L892.7,607.2 L893.1,607.2 L893.5,607.2 L893.9,607.2 L894.3,607.2 L894.7,607.2 L895.1,607.2 L895.5,607.2 L895.9,607.2 L896.4,607.2 L896.8,607.3 L897.2,607.3 L897.6,607.3 L898.0,607.3 L898.4,607.3 L898.8,607.3 L899.2,607.3 L899.6,607.3 L900.0,607.3 L900.4,607.3 L900.8,607.3 L901.2,607.3 L901.6,607.3 L902.1,607.3 L902.5,607.3 L902.9,607.3 L903.3,607.3 L903.7,607.3 L904.1,607.3 L904.5,607.3 L904.9,607.3 L905.3,607.3 L905.7,607.3 L906.1,607.3 L906.5,607.3 L906.9,607.3 L907.3,607.3 L907.8,607.3 L908.2,607.3 L908.6,607.3 L909.0,607.3 L909.4,607.3 L909.8,607.3 L910.2,607.3" stroke="#ee88ee" stroke-width="2.8" stroke-dasharray="13.6 13.4" stroke-dashoffset="12.82"/>
<path d="M95.8,488.4 L96.2,487.8 L96.6,487.3 L97.0,486.7 L97.4,486.2 L97.8,485.6 L98.2,485.1 L98.7,484.6 L99.1,484.0 L99.5,483.5 L99.9,482.9 L100.3,482.4 L100.7,481.8 L101.1,481.3 L101.5,480.8 L101.9,480.2 L102.3,479.7 L102.7,479.2 L103.1,478.6 L103.5,478.1 L103.9,477.6 L104.4,477.0 L104.8,476.5 L105.2,476.0 L105.6,475.4 L106.0,474.9 L106.4,474.4 L106.8,473.9 L107.2,473.4 L107.6,472.8 L108.0,472.3 L108.4,471.8 L108.8,471.3 L109.2,470.8 L109.6,470.2 L110.1,469.7 L110.5,469.2 L110.9,468.7 L111.3,468.2 L111.7,467.7 L112.1,467.2 L112.5,466.6 L112.9,466.1 L113.3,465.6 L113.7,465.1 L114.1,464.6 L114.5,464.1 L114.9,463.6 L115.3,463.1 L115.8,462.6 L116.2,462.1 L116.6,461.6 L117.0,461.1 L117.4,460.6 L117.8,460.1 L118.2,459.6 L118.6,459.1 L119.0,458.6 L119.4,458.1 L119.8,457.6 L120.2,457.1 L120.6,456.6 L121.0,456.1 L121.5,455.7 L121.9,455.2 L122.3,454.7 L122.7,454.2 L123.1,453.7 L123.5,453.2 L123.9,452.7 L124.3,452.2 L124.7,451.8 L125.1,451.3 L125.5,450.8 L125.9,450.3 L126.3,449.8 L126.7,449.3 L127.2,448.9 L127.6,448.4 L128.0,447.9 L128.4,447.4 L128.8,446.9 L129.2,446.5 L129.6,446.0 L130.0,445.5 L130.4,445.0 L130.8,444.6 L131.2,444.1 L131.6,443.6 L132.0,443.1 L132.4,442.7 L132.9,442.2 L133.3,441.7 L133.7,441.2 L134.1,440.8 L134.5,440.3 L134.9,439.8 L135.3,439.4 L135.7,438.9 L136.1,438.4 L136.5,438.0 L136.9,437.5 L137.3,437.0 L137.7,436.6 L138.1,436.1 L138.6,435.6 L139.0,435.2 L139.4,434.7 L139.8,434.2 L140.2,433.8 L140.6,433.3 L141.0,432.9 L141.4,432.4 L141.8,431.9 L142.2,431.5 L142.6,431.0 L143.0,430.6 L143.4,430.1 L143.8,429.6 L144.3,429.2 L144.7,428.7 L145.1,428.3 L145.5,427.8 L145.9,427.3 L146.3,426.9 L146.7,426.4 L147.1,426.0 L147.5,425.5 L147.9,425.1 L148.3,424.6 L148.7,424.1 L149.1,423.7 L149.6,423.2 L150.0,422.8 L150.4,422.3 L150.8,421.9 L151.2,421.4 L151.6,421.0 L152.0,420.5 L152.4,420.1 L152.8,419.6 L153.2,419.2 L153.6,418.7 L154.0,418.3 L154.4,417.8 L154.8,417.3 L155.3,416.9 L155.7,416.4 L156.1,416.0 L156.5,415.5 L156.9,415.1 L157.3,414.6 L157.7,414.2 L158.1,413.7 L158.5,413.3 L158.9,412.8 L159.3,412.4 L159.7,411.9 L160.1,411.5 L160.5,411.0 L161.0,410.6 L161.4,410.1 L161.8,409.7 L162.2,409.2 L162.6,408.8 L163.0,408.3 L163.4,407.9 L163.8,407.4 L164.2,407.0 L164.6,406.5 L165.0,406.1 L165.4,405.6 L165.8,405.2 L166.2,404.8 L166.7,404.3 L167.1,403.9 L167.5,403.4 L167.9,403.0 L168.3,402.5 L168.7,402.1 L169.1,401.6 L169.5,401.2 L169.9,400.7 L170.3,400.3 L170.7,399.8 L171.1,399.4 L171.5,398.9 L171.9,398.5 L172.4,398.0 L172.8,397.6 L173.2,397.1 L173.6,396.7 L174.0,396.2 L174.4,395.8 L174.8,395.3 L175.2,394.8 L175.6,394.4 L176.0,393.9 L176.4,393.5 L176.8,393.0 L177.2,392.6 L177.6,392.1 L178.1,391.7 L178.5,391.2 L178.9,390.8 L179.3,390.3 L179.7,389.9 L180.1,389.4 L180.5,389.0 L180.9,388.5 L181.3,388.1 L181.7,387.6 L182.1,387.1 L182.5,386.7 L182.9,386.2 L183.3,385.8 L183.8,385.3 L184.2,384.9 L184.6,384.4 L185.0,384.0 L185.4,383.5 L185.8,383.1 L186.2,382.6 L186.6,382.1 L187.0,381.7 L187.4,381.2 L187.8,380.8 L188.2,380.3 L188.6,379.9 L189.0,379.4 L189.5,379.0 L189.9,378.5 L190.3,378.0 L190.7,377.6 L191.1,377.1 L191.5,376.7 L191.9,376.2 L192.3,375.8 L192.7,375.3 L193.1,374.9 L193.5,374.4 L193.9,374.0 L194.3,373.5 L194.7,373.1 L195.2,372.6 L195.6,372.2 L196.0,371.7 L196.4,371.2 L196.8,370.8 L197.2,370.3 L197.6,369.9 L198.0,369.4 L198.4,369.0 L198.8,368.5 L199.2,368.1 L199.6,367.6 L200.0,367.2 L200.5,366.7 L200.9,366.3 L201.3,365.8 L201.7,365.4 L202.1,364.9 L202.5,364.5 L202.9,364.0 L203.3,363.6 L203.7,363.2 L204.1,362.7 L204.5,362.3 L204.9,361.8 L205.3,361.4 L205.7,360.9 L206.2,360.5 L206.6,360.0 L207.0,359.6 L207.4,359.2 L207.8,358.7 L208.2,358.3 L208.6,357.8 L209.0,357.4 L209.4,357.0 L209.8,356.5 L210.2,356.1 L210.6,355.6 L211.0,355.2 L211.4,354.8 L211.9,354.3 L212.3,353.9 L212.7,353.5 L213.1,353.0 L213.5,352.6 L213.9,352.2 L214.3,351.7 L214.7,351.3 L215.1,350.9 L215.5,350.4 L215.9,350.0 L216.3,349.6 L216.7,349.1 L217.1,348.7 L217.6,348.3 L218.0,347.9 L218.4,347.4 L218.8,347.0 L219.2,346.6 L219.6,346.2 L220.0,345.7 L220.4,345.3 L220.8,344.9 L221.2,344.5 L221.6,344.1 L222.0,343.6 L222.4,343.2 L222.8,342.8 L223.3,342.4 L223.7,342.0 L224.1,341.6 L224.5,341.1 L224.9,340.7 L225.3,340.3 L225.7,339.9 L226.1,339.5 L226.5,339.1 L226.9,338.7 L227.3,338.3 L227.7,337.9 L228.1,337.4 L228.5,337.0 L229.0,336.6 L229.4,336.2 L229.8,335.8 L230.2,335.4 L230.6,335.0 L231.0,334.6 L231.4,334.2 L231.8,333.8 L232.2,333.4 L232.6,333.0 L233.0,332.6 L233.4,332.2 L233.8,331.8 L234.2,331.4 L234.7,331.0 L235.1,330.6 L235.5,330.2 L235.9,329.8 L236.3,329.4 L236.7,329.0 L237.1,328.7 L237.5,328.3 L237.9,327.9 L238.3,327.5 L238.7,327.1 L239.1,326.7 L239.5,326.3 L239.9,325.9 L240.4,325.5 L240.8,325.2 L241.2,324.8 L241.6,324.4 L242.0,324.0 L242.4,323.6 L242.8,323.2 L243.2,322.9 L243.6,322.5 L244.0,322.1 L244.4,321.7 L244.8,321.3 L245.2,321.0 L245.6,320.6 L246.1,320.2 L246.5,319.8 L246.9,319.4 L247.3,319.1 L247.7,318.7 L248.1,318.3 L248.5,317.9 L248.9,317.6 L249.3,317.2 L249.7,316.8 L250.1,316.5 L250.5,316.1 L250.9,315.7 L251.4,315.4 L251.8,315.0 L252.2,314.6 L252.6,314.2 L253.0,313.9 L253.4,313.5 L253.8,313.2 L254.2,312.8 L254.6,312.4 L255.0,312.1 L255.4,311.7 L255.8,311.3 L256.2,311.0 L256.6,310.6 L257.1,310.3 L257.5,309.9 L257.9,309.5 L258.3,309.2 L258.7,308.8 L259.1,308.5 L259.5,308.1 L259.9,307.7 L260.3,307.4 L260.7,307.0 L261.1,306.7 L261.5,306.3 L261.9,306.0 L262.3,305.6 L262.8,305.3 L263.2,304.9 L263.6,304.6 L264.0,304.2 L264.4,303.9 L264.8,303.5 L265.2,303.2 L265.6,302.8 L266.0,302.5 L266.4,302.1 L266.8,301.8 L267.2,301.4 L267.6,301.1 L268.0,300.8 L268.5,300.4 L268.9,300.1 L269.3,299.7 L269.7,299.4 L270.1,299.0 L270.5,298.7 L270.9,298.4 L271.3,298.0 L271.7,297.7 L272.1,297.4 L272.5,297.0 L272.9,296.7 L273.3,296.3 L273.7,296.0 L274.2,295.7 L274.6,295.3 L275.0,295.0 L275.4,294.7 L275.8,294.3 L276.2,294.0 L276.6,293.7 L277.0,293.4 L277.4,293.0 L277.8,292.7 L278.2,292.4 L278.6,292.0 L279.0,291.7 L279.4,291.4 L279.9,291.1 L280.3,290.7 L280.7,290.4 L281.1,290.1 L281.5,289.8 L281.9,289.5 L282.3,289.1 L282.7,288.8 L283.1,288.5 L283.5,288.2 L283.9,287.9 L284.3,287.5 L284.7,287.2 L285.1,286.9 L285.6,286.6 L286.0,286.3 L286.4,286.0 L286.8,285.7 L287.2,285.3 L287.6,285.0 L288.0,284.7 L288.4,284.4 L288.8,284.1 L289.2,283.8 L289.6,283.5 L290.0,283.2 L290.4,282.9 L290.8,282.6 L291.3,282.3 L291.7,282.0 L292.1,281.7 L292.5,281.4 L292.9,281.0 L293.3,280.7 L293.7,280.4 L294.1,280.1 L294.5,279.8 L294.9,279.5 L295.3,279.3 L295.7,279.0 L296.1,278.7 L296.5,278.4 L297.0,278.1 L297.4,277.8 L297.8,277.5 L298.2,277.2 L298.6,276.9 L299.0,276.6 L299.4,276.3 L299.8,276.0 L300.2,275.7 L300.6,275.4 L301.0,275.2 L301.4,274.9 L301.8,274.6 L302.3,274.3 L302.7,274.0 L303.1,273.7 L303.5,273.5 L303.9,273.2 L304.3,272.9 L304.7,272.6 L305.1,272.3 L305.5,272.1 L305.9,271.8 L306.3,271.5 L306.7,271.2 L307.1,270.9 L307.5,270.7 L308.0,270.4 L308.4,270.1 L308.8,269.9 L309.2,269.6 L309.6,269.3 L310.0,269.1 L310.4,268.8 L310.8,268.5 L311.2,268.3 L311.6,268.0 L312.0,267.7 L312.4,267.5 L312.8,267.2 L313.2,267.0 L313.7,266.7 L314.1,266.4 L314.5,266.2 L314.9,265.9 L315.3,265.7 L315.7,265.4 L316.1,265.2 L316.5,264.9 L316.9,264.7 L317.3,264.4 L317.7,264.2 L318.1,263.9 L318.5,263.7 L318.9,263.4 L319.4,263.2 L319.8,263.0 L320.2,262.7 L320.6,262.5 L321.0,262.3 L321.4,262.0 L321.8,261.8 L322.2,261.6 L322.6,261.3 L323.0,261.1 L323.4,260.9 L323.8,260.6 L324.2,260.4 L324.6,260.2 L325.1,260.0 L325.5,259.8 L325.9,259.5 L326.3,259.3 L326.7,259.1 L327.1,258.9 L327.5,258.7 L327.9,258.5 L328.3,258.2 L328.7,258.0 L329.1,257.8 L329.5,257.6 L329.9,257.4 L330.3,257.2 L330.8,257.0 L331.2,256.8 L331.6,256.6 L332.0,256.4 L332.4,256.2 L332.8,256.0 L333.2,255.8 L333.6,255.7 L334.0,255.5 L334.4,255.3 L334.8,255.1 L335.2,254.9 L335.6,254.7 L336.0,254.6 L336.5,254.4 L336.9,254.2 L337.3,254.0 L337.7,253.9 L338.1,253.7 L338.5,253.5 L338.9,253.3 L339.3,253.2 L339.7,253.0 L340.1,252.9 L340.5,252.7 L340.9,252.5 L341.3,252.4 L341.7,252.2 L342.2,252.1 L342.6,251.9 L343.0,251.8 L343.4,251.6 L343.8,251.5 L344.2,251.3 L344.6,251.2 L345.0,251.1 L345.4,250.9 L345.8,250.8 L346.2,250.6 L346.6,250.5 L347.0,250.4 L347.4,250.2 L347.9,250.1 L348.3,250.0 L348.7,249.9 L349.1,249.7 L349.5,249.6 L349.9,249.5 L350.3,249.4 L350.7,249.3 L351.1,249.1 L351.5,249.0 L351.9,248.9 L352.3,248.8 L352.7,248.7 L353.2,248.6 L353.6,248.5 L354.0,248.4 L354.4,248.3 L354.8,248.2 L355.2,248.1 L355.6,248.0 L356.0,247.9 L356.4,247.8 L356.8,247.7 L357.2,247.6 L357.6,247.5 L358.0,247.4 L358.4,247.3 L358.9,247.2 L359.3,247.1 L359.7,247.0 L360.1,246.9 L360.5,246.8 L360.9,246.8 L361.3,246.7 L361.7,246.6 L362.1,246.5 L362.5,246.4 L362.9,246.4 L363.3,246.3 L363.7,246.2 L364.1,246.1 L364.6,246.1 L365.0,246.0 L365.4,245.9 L365.8,245.8 L366.2,245.8 L366.6,245.7 L367.0,245.6 L367.4,245.6 L367.8,245.5 L368.2,245.4 L368.6,245.4 L369.0,245.3 L369.4,245.2 L369.8,245.2 L370.3,245.1 L370.7,245.1 L371.1,245.0 L371.5,245.0 L371.9,244.9 L372.3,244.8 L372.7,244.8 L373.1,244.7 L373.5,244.7 L373.9,244.6 L374.3,244.6 L374.7,244.5 L375.1,244.5 L375.5,244.4 L376.0,244.4 L376.4,244.3 L376.8,244.3 L377.2,244.2 L377.6,244.2 L378.0,244.1 L378.4,244.1 L378.8,244.1 L379.2,244.0 L379.6,244.0 L380.0,243.9 L380.4,243.9 L380.8,243.9 L381.2,243.8 L381.7,243.8 L382.1,243.7 L382.5,243.7 L382.9,243.7 L383.3,243.6 L383.7,243.6 L384.1,243.6 L384.5,243.5 L384.9,243.5 L385.3,243.5 L385.7,243.4 L386.1,243.4 L386.5,243.4 L386.9,243.3 L387.4,243.3 L387.8,243.3 L388.2,243.3 L388.6,243.2 L389.0,243.2 L389.4,243.2 L389.8,243.2 L390.2,243.2 L390.6,243.1 L391.0,243.1 L391.4,243.1 L391.8,243.1 L392.2,243.1 L392.6,243.1 L393.1,243.1 L393.5,243.1 L393.9,243.1 L394.3,243.1 L394.7,243.1 L395.1,243.1 L395.5,243.1 L395.9,243.1 L396.3,243.1 L396.7,243.1 L397.1,243.2 L397.5,243.2 L397.9,243.2 L398.3,243.2 L398.8,243.2 L399.2,243.3 L399.6,243.3 L400.0,243.3 L400.4,243.4 L400.8,243.4 L401.2,243.5 L401.6,243.5 L402.0,243.5 L402.4,243.6 L402.8,243.7 L403.2,243.7 L403.6,243.8 L404.1,243.8 L404.5,243.9 L404.9,244.0 L405.3,244.0 L405.7,244.1 L406.1,244.2 L406.5,244.3 L406.9,244.4 L407.3,244.5 L407.7,244.5 L408.1,244.6 L408.5,244.7 L408.9,244.9 L409.3,245.0 L409.8,245.1 L410.2,245.2 L410.6,245.3 L411.0,245.4 L411.4,245.6 L411.8,245.7 L412.2,245.8 L412.6,246.0 L413.0,246.1 L413.4,246.3 L413.8,246.4 L414.2,246.6 L414.6,246.7 L415.0,246.9 L415.5,247.1 L415.9,247.2 L416.3,247.4 L416.7,247.6 L417.1,247.8 L417.5,248.0 L417.9,248.2 L418.3,248.4 L418.7,248.6 L419.1,248.8 L419.5,249.0 L419.9,249.2 L420.3,249.5 L420.7,249.7 L421.2,249.9 L421.6,250.2 L422.0,250.4 L422.4,250.7 L422.8,250.9 L423.2,251.2 L423.6,251.5 L424.0,251.7 L424.4,252.0 L424.8,252.3 L425.2,252.6 L425.6,252.9 L426.0,253.1 L426.4,253.4 L426.9,253.7 L427.3,254.0 L427.7,254.3 L428.1,254.6 L428.5,254.9 L428.9,255.2 L429.3,255.5 L429.7,255.9 L430.1,256.2 L430.5,256.5 L430.9,256.8 L431.3,257.1 L431.7,257.4 L432.1,257.7 L432.6,258.0 L433.0,258.3 L433.4,258.6 L433.8,258.9 L434.2,259.2 L434.6,259.5 L435.0,259.8 L435.4,260.1 L435.8,260.4 L436.2,260.7 L436.6,261.0 L437.0,261.3 L437.4,261.6 L437.8,261.9 L438.3,262.2 L438.7,262.5 L439.1,262.8 L439.5,263.1 L439.9,263.4 L440.3,263.7 L440.7,264.0 L441.1,264.4 L441.5,264.7 L441.9,265.1 L442.3,265.5 L442.7,265.9 L443.1,266.3 L443.5,266.7 L444.0,267.1 L444.4,267.6 L444.8,268.0 L445.2,268.5 L445.6,269.0 L446.0,269.6 L446.4,270.1 L446.8,270.7 L447.2,271.3 L447.6,272.0 L448.0,272.6 L448.4,273.3 L448.8,274.0 L449.2,274.8 L449.7,275.6 L450.1,276.4 L450.5,277.2 L450.9,278.1 L451.3,278.9 L451.7,279.8 L452.1,280.8 L452.5,281.7 L452.9,282.7 L453.3,283.7 L453.7,284.7 L454.1,285.7 L454.5,286.8 L455.0,287.8 L455.4,288.9 L455.8,290.0 L456.2,291.1 L456.6,292.2 L457.0,293.3 L457.4,294.5 L457.8,295.6 L458.2,296.8 L458.6,297.9 L459.0,299.1 L459.4,300.3 L459.8,301.4 L460.2,302.6 L460.7,303.8 L461.1,305.0 L461.5,306.2 L461.9,307.3 L462.3,308.5 L462.7,309.7 L463.1,310.9 L463.5,312.0 L463.9,313.2 L464.3,314.4 L464.7,315.5 L465.1,316.7 L465.5,317.8 L465.9,319.0 L466.4,320.1 L466.8,321.3 L467.2,322.4 L467.6,323.5 L468.0,324.7 L468.4,325.8 L468.8,326.9 L469.2,328.0 L469.6,329.1 L470.0,330.2 L470.4,331.3 L470.8,332.4 L471.2,333.5 L471.6,334.6 L472.1,335.6 L472.5,336.7 L472.9,337.7 L473.3,338.8 L473.7,339.8 L474.1,340.8 L474.5,341.9 L474.9,342.9 L475.3,343.9 L475.7,344.9 L476.1,345.9 L476.5,346.9 L476.9,347.9 L477.3,348.9 L477.8,349.9 L478.2,350.9 L478.6,351.9 L479.0,352.9 L479.4,353.9 L479.8,354.9 L480.2,355.9 L480.6,356.9 L481.0,357.9 L481.4,358.9 L481.8,359.9 L482.2,360.9 L482.6,361.8 L483.0,362.8 L483.5,363.7 L483.9,364.7 L484.3,365.6 L484.7,366.6 L485.1,367.5 L485.5,368.4 L485.9,369.2 L486.3,370.1 L486.7,371.0 L487.1,371.8 L487.5,372.7 L487.9,373.5 L488.3,374.4 L488.7,375.2 L489.2,376.0 L489.6,376.8 L490.0,377.6 L490.4,378.5 L490.8,379.3 L491.2,380.1 L491.6,380.9 L492.0,381.7 L492.4,382.5 L492.8,383.3 L493.2,384.1 L493.6,384.9 L494.0,385.7 L494.4,386.5 L494.9,387.3 L495.3,388.1 L495.7,388.9 L496.1,389.7 L496.5,390.5 L496.9,391.3 L497.3,392.1 L497.7,392.9 L498.1,393.6 L498.5,394.4 L498.9,395.1 L499.3,395.9 L499.7,396.6 L500.1,397.4 L500.6,398.1 L501.0,398.8 L501.4,399.5 L501.8,400.2 L502.2,400.9 L502.6,401.5 L503.0,402.2 L503.4,402.8 L503.8,403.5 L504.2,404.1 L504.6,404.7 L505.0,405.2 L505.4,405.8 L505.9,406.4 L506.3,406.9 L506.7,407.4 L507.1,407.9 L507.5,408.4 L507.9,408.9 L508.3,409.4 L508.7,409.9 L509.1,410.4 L509.5,410.8 L509.9,411.3 L510.3,411.7 L510.7,412.1 L511.1,412.5 L511.6,413.0 L512.0,413.4 L512.4,413.8 L512.8,414.2 L513.2,414.5 L513.6,414.9 L514.0,415.3 L514.4,415.7 L514.8,416.0 L515.2,416.4 L515.6,416.7 L516.0,417.1 L516.4,417.4 L516.8,417.8 L517.3,418.1 L517.7,418.5 L518.1,418.8 L518.5,419.1 L518.9,419.5 L519.3,419.8 L519.7,420.1 L520.1,420.5 L520.5,420.8 L520.9,421.1 L521.3,421.5 L521.7,421.8 L522.1,422.1 L522.5,422.5 L523.0,422.8 L523.4,423.2 L523.8,423.5 L524.2,423.9 L524.6,424.2 L525.0,424.6 L525.4,424.9 L525.8,425.3 L526.2,425.6 L526.6,426.0 L527.0,426.3 L527.4,426.7 L527.8,427.1 L528.2,427.4 L528.7,427.8 L529.1,428.1 L529.5,428.5 L529.9,428.9 L530.3,429.2 L530.7,429.6 L531.1,430.0 L531.5,430.3 L531.9,430.7 L532.3,431.0 L532.7,431.4 L533.1,431.8 L533.5,432.1 L533.9,432.5 L534.4,432.8 L534.8,433.2 L535.2,433.6 L535.6,433.9 L536.0,434.3 L536.4,434.6 L536.8,435.0 L537.2,435.3 L537.6,435.7 L538.0,436.0 L538.4,436.4 L538.8,436.7 L539.2,437.1 L539.6,437.4 L540.1,437.7 L540.5,438.1 L540.9,438.4 L541.3,438.7 L541.7,439.1 L542.1,439.4 L542.5,439.7 L542.9,440.0 L543.3,440.3 L543.7,440.7 L544.1,441.0 L544.5,441.3 L544.9,441.6 L545.3,441.9 L545.8,442.2 L546.2,442.5 L546.6,442.8 L547.0,443.1 L547.4,443.4 L547.8,443.6 L548.2,443.9 L548.6,444.2 L549.0,444.5 L549.4,444.7 L549.8,445.0 L550.2,445.3 L550.6,445.5 L551.0,445.8 L551.5,446.1 L551.9,446.3 L552.3,446.6 L552.7,446.8 L553.1,447.1 L553.5,447.3 L553.9,447.6 L554.3,447.8 L554.7,448.0 L555.1,448.3 L555.5,448.5 L555.9,448.7 L556.3,449.0 L556.8,449.2 L557.2,449.4 L557.6,449.6 L558.0,449.8 L558.4,450.1 L558.8,450.3 L559.2,450.5 L559.6,450.7 L560.0,450.9 L560.4,451.1 L560.8,451.3 L561.2,451.5 L561.6,451.7 L562.0,451.9 L562.5,452.1 L562.9,452.3 L563.3,452.5 L563.7,452.7 L564.1,452.9 L564.5,453.1 L564.9,453.2 L565.3,453.4 L565.7,453.6 L566.1,453.8 L566.5,454.0 L566.9,454.1 L567.3,454.3 L567.7,454.5 L568.2,454.6 L568.6,454.8 L569.0,455.0 L569.4,455.1 L569.8,455.3 L570.2,455.5 L570.6,455.6 L571.0,455.8 L571.4,456.0 L571.8,456.1 L572.2,456.3 L572.6,456.4 L573.0,456.6 L573.4,456.7 L573.9,456.9 L574.3,457.0 L574.7,457.2 L575.1,457.3 L575.5,457.5 L575.9,457.6 L576.3,457.8 L576.7,457.9 L577.1,458.0 L577.5,458.2 L577.9,458.3 L578.3,458.5 L578.7,458.6 L579.1,458.7 L579.6,458.9 L580.0,459.0 L580.4,459.1 L580.8,459.3 L581.2,459.4 L581.6,459.5 L582.0,459.7 L582.4,459.8 L582.8,459.9 L583.2,460.1 L583.6,460.2 L584.0,460.3 L584.4,460.4 L584.8,460.6 L585.3,460.7 L585.7,460.8 L586.1,461.0 L586.5,461.1 L586.9,461.2 L587.3,461.3 L587.7,461.5 L588.1,461.6 L588.5,461.7 L588.9,461.8 L589.3,462.0 L589.7,462.1 L590.1,462.2 L590.5,462.3 L591.0,462.4 L591.4,462.6 L591.8,462.7 L592.2,462.8 L592.6,462.9 L593.0,463.0 L593.4,463.1 L593.8,463.3 L594.2,463.4 L594.6,463.5 L595.0,463.6 L595.4,463.7 L595.8,463.8 L596.2,464.0 L596.7,464.1 L597.1,464.2 L597.5,464.3 L597.9,464.4 L598.3,464.5 L598.7,464.6 L599.1,464.7 L599.5,464.8 L599.9,465.0 L600.3,465.1 L600.7,465.2 L601.1,465.3 L601.5,465.4 L601.9,465.5 L602.4,465.6 L602.8,465.7 L603.2,465.8 L603.6,465.9 L604.0,466.0 L604.4,466.1 L604.8,466.2 L605.2,466.3 L605.6,466.4 L606.0,466.5 L606.4,466.6 L606.8,466.7 L607.2,466.8 L607.7,466.9 L608.1,467.0 L608.5,467.1 L608.9,467.2 L609.3,467.3 L609.7,467.4 L610.1,467.5 L610.5,467.6 L610.9,467.7 L611.3,467.8 L611.7,467.9 L612.1,468.0 L612.5,468.1 L612.9,468.2 L613.4,468.3 L613.8,468.4 L614.2,468.4 L614.6,468.5 L615.0,468.6 L615.4,468.7 L615.8,468.8 L616.2,468.9 L616.6,469.0 L617.0,469.1 L617.4,469.2 L617.8,469.2 L618.2,469.3 L618.6,469.4 L619.1,469.5 L619.5,469.6 L619.9,469.7 L620.3,469.7 L620.7,469.8 L621.1,469.9 L621.5,470.0 L621.9,470.1 L622.3,470.1 L622.7,470.2 L623.1,470.3 L623.5,470.4 L623.9,470.5 L624.3,470.5 L624.8,470.6 L625.2,470.7 L625.6,470.8 L626.0,470.8 L626.4,470.9 L626.8,471.0 L627.2,471.1 L627.6,471.1 L628.0,471.2 L628.4,471.3 L628.8,471.4 L629.2,471.4 L629.6,471.5 L630.0,471.6 L630.5,471.6 L630.9,471.7 L631.3,471.8 L631.7,471.8 L632.1,471.9 L632.5,472.0 L632.9,472.0 L633.3,472.1 L633.7,472.2 L634.1,472.2 L634.5,472.3 L634.9,472.4 L635.3,472.4 L635.7,472.5 L636.2,472.5 L636.6,472.6 L637.0,472.7 L637.4,472.7 L637.8,472.8 L638.2,472.8 L638.6,472.9 L639.0,473.0 L639.4,473.0 L639.8,473.1 L640.2,473.1 L640.6,473.2 L641.0,473.3 L641.4,473.3 L641.9,473.4 L642.3,473.4 L642.7,473.5 L643.1,473.5 L643.5,473.6 L643.9,473.6 L644.3,473.7 L644.7,473.8 L645.1,473.8 L645.5,473.9 L645.9,473.9 L646.3,474.0 L646.7,474.0 L647.1,474.1 L647.6,474.1 L648.0,474.2 L648.4,474.2 L648.8,474.3 L649.2,474.3 L649.6,474.4 L650.0,474.4 L650.4,474.5 L650.8,474.5 L651.2,474.6 L651.6,474.6 L652.0,474.7 L652.4,474.7 L652.8,474.8 L653.3,474.8 L653.7,474.8 L654.1,474.9 L654.5,474.9 L654.9,475.0 L655.3,475.0 L655.7,475.1 L656.1,475.1 L656.5,475.2 L656.9,475.2 L657.3,475.3 L657.7,475.3 L658.1,475.3 L658.6,475.4 L659.0,475.4 L659.4,475.5 L659.8,475.5 L660.2,475.6 L660.6,475.6 L661.0,475.6 L661.4,475.7 L661.8,475.7 L662.2,475.8 L662.6,475.8 L663.0,475.9 L663.4,475.9 L663.8,475.9 L664.3,476.0 L664.7,476.0 L665.1,476.1 L665.5,476.1 L665.9,476.1 L666.3,476.2 L666.7,476.2 L667.1,476.3 L667.5,476.3 L667.9,476.3 L668.3,476.4 L668.7,476.4 L669.1,476.5 L669.5,476.5 L670.0,476.5 L670.4,476.6 L670.8,476.6 L671.2,476.6 L671.6,476.7 L672.0,476.7 L672.4,476.8 L672.8,476.8 L673.2,476.8 L673.6,476.9 L674.0,476.9 L674.4,476.9 L674.8,477.0 L675.2,477.0 L675.7,477.1 L676.1,477.1 L676.5,477.1 L676.9,477.2 L677.3,477.2 L677.7,477.2 L678.1,477.3 L678.5,477.3 L678.9,477.3 L679.3,477.4 L679.7,477.4 L680.1,477.4 L680.5,477.5 L680.9,477.5 L681.4,477.6 L681.8,477.6 L682.2,477.6 L682.6,477.7 L683.0,477.7 L683.4,477.7 L683.8,477.8 L684.2,477.8 L684.6,477.8 L685.0,477.9 L685.4,477.9 L685.8,477.9 L686.2,478.0 L686.6,478.0 L687.1,478.0 L687.5,478.1 L687.9,478.1 L688.3,478.1 L688.7,478.2 L689.1,478.2 L689.5,478.2 L689.9,478.3 L690.3,478.3 L690.7,478.3 L691.1,478.4 L691.5,478.4 L691.9,478.4 L692.3,478.4 L692.8,478.5 L693.2,478.5 L693.6,478.5 L694.0,478.6 L694.4,478.6 L694.8,478.6 L695.2,478.7 L695.6,478.7 L696.0,478.7 L696.4,478.8 L696.8,478.8 L697.2,478.8 L697.6,478.8 L698.0,478.9 L698.5,478.9 L698.9,478.9 L699.3,479.0 L699.7,479.0 L700.1,479.0 L700.5,479.1 L700.9,479.1 L701.3,479.1 L701.7,479.1 L702.1,479.2 L702.5,479.2 L702.9,479.2 L703.3,479.3 L703.7,479.3 L704.2,479.3 L704.6,479.3 L705.0,479.4 L705.4,479.4 L705.8,479.4 L706.2,479.5 L706.6,479.5 L707.0,479.5 L707.4,479.5 L707.8,479.6 L708.2,479.6 L708.6,479.6 L709.0,479.7 L709.5,479.7 L709.9,479.7 L710.3,479.7 L710.7,479.8 L711.1,479.8 L711.5,479.8 L711.9,479.8 L712.3,479.9 L712.7,479.9 L713.1,479.9 L713.5,480.0 L713.9,480.0 L714.3,480.0 L714.7,480.0 L715.2,480.1 L715.6,480.1 L716.0,480.1 L716.4,480.1 L716.8,480.2 L717.2,480.2 L717.6,480.2 L718.0,480.2 L718.4,480.3 L718.8,480.3 L719.2,480.3 L719.6,480.3 L720.0,480.4 L720.4,480.4 L720.9,480.4 L721.3,480.4 L721.7,480.5 L722.1,480.5 L722.5,480.5 L722.9,480.6 L723.3,480.6 L723.7,480.6 L724.1,480.6 L724.5,480.7 L724.9,480.7 L725.3,480.7 L725.7,480.7 L726.1,480.8 L726.6,480.8 L727.0,480.8 L727.4,480.8 L727.8,480.8 L728.2,480.9 L728.6,480.9 L729.0,480.9 L729.4,480.9 L729.8,481.0 L730.2,481.0 L730.6,481.0 L731.0,481.0 L731.4,481.1 L731.8,481.1 L732.3,481.1 L732.7,481.1 L733.1,481.2 L733.5,481.2 L733.9,481.2 L734.3,481.2 L734.7,481.3 L735.1,481.3 L735.5,481.3 L735.9,481.3 L736.3,481.4 L736.7,481.4 L737.1,481.4 L737.5,481.4 L738.0,481.4 L738.4,481.5 L738.8,481.5 L739.2,481.5 L739.6,481.5 L740.0,481.6 L740.4,481.6 L740.8,481.6 L741.2,481.6 L741.6,481.7 L742.0,481.7 L742.4,481.7 L742.8,481.7 L743.2,481.8 L743.7,481.8 L744.1,481.8 L744.5,481.8 L744.9,481.8 L745.3,481.9 L745.7,481.9 L746.1,481.9 L746.5,481.9 L746.9,482.0 L747.3,482.0 L747.7,482.0 L748.1,482.0 L748.5,482.0 L748.9,482.1 L749.4,482.1 L749.8,482.1 L750.2,482.1 L750.6,482.2 L751.0,482.2 L751.4,482.2 L751.8,482.2 L752.2,482.2 L752.6,482.3 L753.0,482.3 L753.4,482.3 L753.8,482.3 L754.2,482.4 L754.6,482.4 L755.1,482.4 L755.5,482.4 L755.9,482.4 L756.3,482.5 L756.7,482.5 L757.1,482.5 L757.5,482.5 L757.9,482.6 L758.3,482.6 L758.7,482.6 L759.1,482.6 L759.5,482.6 L759.9,482.7 L760.4,482.7 L760.8,482.7 L761.2,482.7 L761.6,482.7 L762.0,482.8 L762.4,482.8 L762.8,482.8 L763.2,482.8 L763.6,482.8 L764.0,482.9 L764.4,482.9 L764.8,482.9 L765.2,482.9 L765.6,482.9 L766.1,483.0 L766.5,483.0 L766.9,483.0 L767.3,483.0 L767.7,483.0 L768.1,483.1 L768.5,483.1 L768.9,483.1 L769.3,483.1 L769.7,483.1 L770.1,483.2 L770.5,483.2 L770.9,483.2 L771.3,483.2 L771.8,483.2 L772.2,483.2 L772.6,483.3 L773.0,483.3 L773.4,483.3 L773.8,483.3 L774.2,483.3 L774.6,483.3 L775.0,483.4 L775.4,483.4 L775.8,483.4 L776.2,483.4 L776.6,483.4 L777.0,483.4 L777.5,483.5 L777.9,483.5 L778.3,483.5 L778.7,483.5 L779.1,483.5 L779.5,483.5 L779.9,483.5 L780.3,483.6 L780.7,483.6 L781.1,483.6 L781.5,483.6 L781.9,483.6 L782.3,483.6 L782.7,483.6 L783.2,483.7 L783.6,483.7 L784.0,483.7 L784.4,483.7 L784.8,483.7 L785.2,483.7 L785.6,483.7 L786.0,483.7 L786.4,483.8 L786.8,483.8 L787.2,483.8 L787.6,483.8 L788.0,483.8 L788.4,483.8 L788.9,483.8 L789.3,483.8 L789.7,483.8 L790.1,483.8 L790.5,483.9 L790.9,483.9 L791.3,483.9 L791.7,483.9 L792.1,483.9 L792.5,483.9 L792.9,483.9 L793.3,483.9 L793.7,483.9 L794.1,483.9 L794.6,483.9 L795.0,483.9 L795.4,483.9 L795.8,483.9 L796.2,484.0 L796.6,484.0 L797.0,484.0 L797.4,484.0 L797.8,484.0 L798.2,484.0 L798.6,484.0 L799.0,484.0 L799.4,484.0 L799.8,484.0 L800.3,484.0 L800.7,484.0 L801.1,484.0 L801.5,484.0 L801.9,484.0 L802.3,484.0 L802.7,484.0 L803.1,484.0 L803.5,484.0 L803.9,484.0 L804.3,484.1 L804.7,484.1 L805.1,484.1 L805.5,484.1 L806.0,484.1 L806.4,484.1 L806.8,484.1 L807.2,484.1 L807.6,484.1 L808.0,484.1 L808.4,484.1 L808.8,484.1 L809.2,484.1 L809.6,484.1 L810.0,484.1 L810.4,484.1 L810.8,484.1 L811.3,484.1 L811.7,484.1 L812.1,484.1 L812.5,484.1 L812.9,484.1 L813.3,484.1 L813.7,484.1 L814.1,484.1 L814.5,484.1 L814.9,484.1 L815.3,484.1 L815.7,484.1 L816.1,484.1 L816.5,484.1 L817.0,484.1 L817.4,484.1 L817.8,484.1 L818.2,484.1 L818.6,484.1 L819.0,484.1 L819.4,484.1 L819.8,484.1 L820.2,484.1 L820.6,484.1 L821.0,484.1 L821.4,484.2 L821.8,484.2 L822.2,484.2 L822.7,484.2 L823.1,484.2 L823.5,484.2 L823.9,484.2 L824.3,484.2 L824.7,484.2 L825.1,484.2 L825.5,484.2 L825.9,484.2 L826.3,484.2 L826.7,484.2 L827.1,484.2 L827.5,484.2 L827.9,484.2 L828.4,484.2 L828.8,484.2 L829.2,484.2 L829.6,484.2 L830.0,484.2 L830.4,484.2 L830.8,484.2 L831.2,484.2 L831.6,484.2 L832.0,484.2 L832.4,484.2 L832.8,484.2 L833.2,484.2 L833.6,484.2 L834.1,484.2 L834.5,484.3 L834.9,484.3 L835.3,484.3 L835.7,484.3 L836.1,484.3 L836.5,484.3 L836.9,484.3 L837.3,484.3 L837.7,484.3 L838.1,484.3 L838.5,484.3 L838.9,484.3 L839.3,484.3 L839.8,484.3 L840.2,484.3 L840.6,484.3 L841.0,484.3 L841.4,484.3 L841.8,484.3 L842.2,484.4 L842.6,484.4 L843.0,484.4 L843.4,484.4 L843.8,484.4 L844.2,484.4 L844.6,484.4 L845.0,484.4 L845.5,484.4 L845.9,484.4 L846.3,484.4 L846.7,484.4 L847.1,484.4 L847.5,484.4 L847.9,484.4 L848.3,484.5 L848.7,484.5 L849.1,484.5 L849.5,484.5 L849.9,484.5 L850.3,484.5 L850.7,484.5 L851.2,484.5 L851.6,484.5 L852.0,484.5 L852.4,484.5 L852.8,484.5 L853.2,484.5 L853.6,484.5 L854.0,484.6 L854.4,484.6 L854.8,484.6 L855.2,484.6 L855.6,484.6 L856.0,484.6 L856.4,484.6 L856.9,484.6 L857.3,484.6 L857.7,484.6 L858.1,484.6 L858.5,484.6 L858.9,484.7 L859.3,484.7 L859.7,484.7 L860.1,484.7 L860.5,484.7 L860.9,484.7 L861.3,484.7 L861.7,484.7 L862.2,484.7 L862.6,484.7 L863.0,484.7 L863.4,484.8 L863.8,484.8 L864.2,484.8 L864.6,484.8 L865.0,484.8 L865.4,484.8 L865.8,484.8 L866.2,484.8 L866.6,484.8 L867.0,484.8 L867.4,484.9 L867.9,484.9 L868.3,484.9 L868.7,484.9 L869.1,484.9 L869.5,484.9 L869.9,484.9 L870.3,484.9 L870.7,484.9 L871.1,484.9 L871.5,484.9 L871.9,485.0 L872.3,485.0 L872.7,485.0 L873.1,485.0 L873.6,485.0 L874.0,485.0 L874.4,485.0 L874.8,485.0 L875.2,485.0 L875.6,485.1 L876.0,485.1 L876.4,485.1 L876.8,485.1 L877.2,485.1 L877.6,485.1 L878.0,485.1 L878.4,485.1 L878.8,485.1 L879.3,485.1 L879.7,485.2 L880.1,485.2 L880.5,485.2 L880.9,485.2 L881.3,485.2 L881.7,485.2 L882.1,485.2 L882.5,485.2 L882.9,485.2 L883.3,485.3 L883.7,485.3 L884.1,485.3 L884.5,485.3 L885.0,485.3 L885.4,485.3 L885.8,485.3 L886.2,485.3 L886.6,485.3 L887.0,485.4 L887.4,485.4 L887.8,485.4 L888.2,485.4 L888.6,485.4 L889.0,485.4 L889.4,485.4 L889.8,485.4 L890.2,485.4 L890.7,485.5 L891.1,485.5 L891.5,485.5 L891.9,485.5 L892.3,485.5 L892.7,485.5 L893.1,485.5 L893.5,485.5 L893.9,485.5 L894.3,485.6 L894.7,485.6 L895.1,485.6 L895.5,485.6 L895.9,485.6 L896.4,485.6 L896.8,485.6 L897.2,485.6 L897.6,485.6 L898.0,485.7 L898.4,485.7 L898.8,485.7 L899.2,485.7 L899.6,485.7 L900.0,485.7 L900.4,485.7 L900.8,485.7 L901.2,485.8 L901.6,485.8 L902.1,485.8 L902.5,485.8 L902.9,485.8 L903.3,485.8 L903.7,485.8 L904.1,485.8 L904.5,485.8 L904.9,485.9 L905.3,485.9 L905.7,485.9 L906.1,485.9 L906.5,485.9 L906.9,485.9 L907.3,485.9 L907.8,485.9 L908.2,485.9 L908.6,486.0 L909.0,486.0 L909.4,486.0 L909.8,486.0 L910.2,486.0" stroke="#000" stroke-width="3"/>
<rect x="89.20" y="481.80" width="13.2" height="13.2" fill="#000"/>
<rect x="130.50" y="430.70" width="13.2" height="13.2" fill="#000"/>
<rect x="170.90" y="385.70" width="13.2" height="13.2" fill="#000"/>
<rect x="211.70" y="340.90" width="13.2" height="13.2" fill="#000"/>
<rect x="252.10" y="302.20" width="13.2" height="13.2" fill="#000"/>
<rect x="293.10" y="269.50" width="13.2" height="13.2" fill="#000"/>
<rect x="333.40" y="246.30" width="13.2" height="13.2" fill="#000"/>
<rect x="374.80" y="237.20" width="13.2" height="13.2" fill="#000"/>
<rect x="415.50" y="243.90" width="13.2" height="13.2" fill="#000"/>
<rect x="455.50" y="301.40" width="13.2" height="13.2" fill="#000"/>
<rect x="496.40" y="395.60" width="13.2" height="13.2" fill="#000"/>
<rect x="537.30" y="434.20" width="13.2" height="13.2" fill="#000"/>
<rect x="578.00" y="453.90" width="13.2" height="13.2" fill="#000"/>
<rect x="618.60" y="464.10" width="13.2" height="13.2" fill="#000"/>
<rect x="658.90" y="469.50" width="13.2" height="13.2" fill="#000"/>
<rect x="700.20" y="472.90" width="13.2" height="13.2" fill="#000"/>
<rect x="741.10" y="475.40" width="13.2" height="13.2" fill="#000"/>
<rect x="781.70" y="477.20" width="13.2" height="13.2" fill="#000"/>
<rect x="822.50" y="477.60" width="13.2" height="13.2" fill="#000"/>
<rect x="862.90" y="478.30" width="13.2" height="13.2" fill="#000"/>
<rect x="903.60" y="479.40" width="13.2" height="13.2" fill="#000"/>
<path d="M95.8,489.7 L96.2,489.3 L96.6,489.0 L97.0,488.7 L97.4,488.4 L97.8,488.1 L98.2,487.9 L98.7,487.6 L99.1,487.4 L99.5,487.1 L99.9,486.9 L100.3,486.7 L100.7,486.5 L101.1,486.3 L101.5,486.2 L101.9,486.0 L102.3,485.9 L102.7,485.8 L103.1,485.7 L103.5,485.6 L103.9,485.5 L104.4,485.5 L104.8,485.4 L105.2,485.4 L105.6,485.4 L106.0,485.4 L106.4,485.5 L106.8,485.5 L107.2,485.6 L107.6,485.7 L108.0,485.8 L108.4,485.9 L108.8,486.0 L109.2,486.2 L109.6,486.3 L110.1,486.4 L110.5,486.5 L110.9,486.6 L111.3,486.6 L111.7,486.7 L112.1,486.7 L112.5,486.7 L112.9,486.7 L113.3,486.7 L113.7,486.6 L114.1,486.6 L114.5,486.5 L114.9,486.5 L115.3,486.4 L115.8,486.3 L116.2,486.2 L116.6,486.1 L117.0,486.0 L117.4,485.9 L117.8,485.8 L118.2,485.7 L118.6,485.6 L119.0,485.5 L119.4,485.4 L119.8,485.3 L120.2,485.1 L120.6,485.0 L121.0,484.9 L121.5,484.8 L121.9,484.7 L122.3,484.6 L122.7,484.5 L123.1,484.4 L123.5,484.3 L123.9,484.2 L124.3,484.1 L124.7,484.0 L125.1,484.0 L125.5,483.9 L125.9,483.9 L126.3,483.8 L126.7,483.8 L127.2,483.8 L127.6,483.8 L128.0,483.8 L128.4,483.8 L128.8,483.9 L129.2,483.9 L129.6,484.0 L130.0,484.0 L130.4,484.1 L130.8,484.2 L131.2,484.3 L131.6,484.4 L132.0,484.5 L132.4,484.6 L132.9,484.7 L133.3,484.8 L133.7,484.9 L134.1,485.1 L134.5,485.2 L134.9,485.3 L135.3,485.4 L135.7,485.5 L136.1,485.7 L136.5,485.8 L136.9,485.9 L137.3,486.0 L137.7,486.1 L138.1,486.2 L138.6,486.3 L139.0,486.4 L139.4,486.5 L139.8,486.6 L140.2,486.6 L140.6,486.7 L141.0,486.7 L141.4,486.8 L141.8,486.8 L142.2,486.8 L142.6,486.8 L143.0,486.8 L143.4,486.7 L143.8,486.6 L144.3,486.5 L144.7,486.4 L145.1,486.2 L145.5,486.0 L145.9,485.8 L146.3,485.6 L146.7,485.4 L147.1,485.1 L147.5,484.8 L147.9,484.6 L148.3,484.3 L148.7,484.0 L149.1,483.7 L149.6,483.4 L150.0,483.0 L150.4,482.7 L150.8,482.4 L151.2,482.1 L151.6,481.8 L152.0,481.5 L152.4,481.2 L152.8,480.9 L153.2,480.6 L153.6,480.3 L154.0,480.0 L154.4,479.7 L154.8,479.5 L155.3,479.3 L155.7,479.1 L156.1,478.9 L156.5,478.7 L156.9,478.6 L157.3,478.4 L157.7,478.3 L158.1,478.3 L158.5,478.2 L158.9,478.2 L159.3,478.2 L159.7,478.2 L160.1,478.3 L160.5,478.3 L161.0,478.4 L161.4,478.5 L161.8,478.6 L162.2,478.7 L162.6,478.9 L163.0,479.0 L163.4,479.1 L163.8,479.3 L164.2,479.5 L164.6,479.6 L165.0,479.8 L165.4,480.0 L165.8,480.2 L166.2,480.4 L166.7,480.6 L167.1,480.8 L167.5,481.0 L167.9,481.2 L168.3,481.4 L168.7,481.6 L169.1,481.8 L169.5,482.0 L169.9,482.2 L170.3,482.4 L170.7,482.6 L171.1,482.8 L171.5,483.0 L171.9,483.1 L172.4,483.3 L172.8,483.5 L173.2,483.6 L173.6,483.7 L174.0,483.8 L174.4,483.9 L174.8,484.0 L175.2,484.1 L175.6,484.2 L176.0,484.3 L176.4,484.3 L176.8,484.4 L177.2,484.5 L177.6,484.6 L178.1,484.6 L178.5,484.7 L178.9,484.8 L179.3,484.8 L179.7,484.9 L180.1,485.0 L180.5,485.0 L180.9,485.1 L181.3,485.2 L181.7,485.2 L182.1,485.3 L182.5,485.3 L182.9,485.4 L183.3,485.4 L183.8,485.5 L184.2,485.5 L184.6,485.6 L185.0,485.6 L185.4,485.6 L185.8,485.7 L186.2,485.7 L186.6,485.7 L187.0,485.7 L187.4,485.8 L187.8,485.8 L188.2,485.8 L188.6,485.8 L189.0,485.8 L189.5,485.8 L189.9,485.7 L190.3,485.7 L190.7,485.6 L191.1,485.5 L191.5,485.4 L191.9,485.2 L192.3,485.1 L192.7,484.9 L193.1,484.8 L193.5,484.6 L193.9,484.4 L194.3,484.2 L194.7,483.9 L195.2,483.7 L195.6,483.5 L196.0,483.3 L196.4,483.0 L196.8,482.8 L197.2,482.6 L197.6,482.3 L198.0,482.1 L198.4,481.9 L198.8,481.7 L199.2,481.5 L199.6,481.3 L200.0,481.1 L200.5,480.9 L200.9,480.7 L201.3,480.6 L201.7,480.4 L202.1,480.3 L202.5,480.2 L202.9,480.1 L203.3,480.1 L203.7,480.0 L204.1,480.0 L204.5,480.0 L204.9,480.1 L205.3,480.1 L205.7,480.2 L206.2,480.4 L206.6,480.5 L207.0,480.7 L207.4,480.9 L207.8,481.2 L208.2,481.4 L208.6,481.7 L209.0,481.9 L209.4,482.2 L209.8,482.5 L210.2,482.8 L210.6,483.1 L211.0,483.4 L211.4,483.7 L211.9,484.0 L212.3,484.2 L212.7,484.5 L213.1,484.8 L213.5,485.0 L213.9,485.2 L214.3,485.4 L214.7,485.6 L215.1,485.8 L215.5,485.9 L215.9,486.1 L216.3,486.1 L216.7,486.2 L217.1,486.2 L217.6,486.2 L218.0,486.1 L218.4,486.0 L218.8,485.9 L219.2,485.7 L219.6,485.6 L220.0,485.4 L220.4,485.1 L220.8,484.9 L221.2,484.6 L221.6,484.4 L222.0,484.1 L222.4,483.8 L222.8,483.5 L223.3,483.2 L223.7,482.9 L224.1,482.6 L224.5,482.3 L224.9,482.0 L225.3,481.7 L225.7,481.4 L226.1,481.1 L226.5,480.9 L226.9,480.6 L227.3,480.4 L227.7,480.2 L228.1,480.1 L228.5,479.9 L229.0,479.8 L229.4,479.7 L229.8,479.7 L230.2,479.7 L230.6,479.7 L231.0,479.8 L231.4,479.9 L231.8,480.1 L232.2,480.3 L232.6,480.5 L233.0,480.7 L233.4,481.0 L233.8,481.3 L234.2,481.6 L234.7,481.9 L235.1,482.2 L235.5,482.6 L235.9,482.9 L236.3,483.2 L236.7,483.6 L237.1,483.9 L237.5,484.2 L237.9,484.5 L238.3,484.8 L238.7,485.1 L239.1,485.4 L239.5,485.6 L239.9,485.8 L240.4,486.0 L240.8,486.1 L241.2,486.2 L241.6,486.3 L242.0,486.3 L242.4,486.3 L242.8,486.2 L243.2,486.1 L243.6,486.0 L244.0,485.8 L244.4,485.7 L244.8,485.4 L245.2,485.2 L245.6,484.9 L246.1,484.7 L246.5,484.4 L246.9,484.0 L247.3,483.7 L247.7,483.4 L248.1,483.0 L248.5,482.7 L248.9,482.3 L249.3,482.0 L249.7,481.6 L250.1,481.3 L250.5,480.9 L250.9,480.6 L251.4,480.3 L251.8,480.0 L252.2,479.7 L252.6,479.4 L253.0,479.2 L253.4,478.9 L253.8,478.7 L254.2,478.6 L254.6,478.4 L255.0,478.3 L255.4,478.2 L255.8,478.2 L256.2,478.2 L256.6,478.2 L257.1,478.3 L257.5,478.4 L257.9,478.5 L258.3,478.7 L258.7,478.9 L259.1,479.1 L259.5,479.3 L259.9,479.5 L260.3,479.7 L260.7,480.0 L261.1,480.2 L261.5,480.5 L261.9,480.8 L262.3,481.0 L262.8,481.3 L263.2,481.5 L263.6,481.8 L264.0,482.0 L264.4,482.2 L264.8,482.4 L265.2,482.6 L265.6,482.8 L266.0,482.9 L266.4,483.0 L266.8,483.1 L267.2,483.2 L267.6,483.2 L268.0,483.2 L268.5,483.1 L268.9,483.1 L269.3,482.9 L269.7,482.8 L270.1,482.6 L270.5,482.4 L270.9,482.2 L271.3,482.0 L271.7,481.7 L272.1,481.5 L272.5,481.2 L272.9,480.9 L273.3,480.6 L273.7,480.3 L274.2,480.1 L274.6,479.8 L275.0,479.5 L275.4,479.2 L275.8,478.9 L276.2,478.7 L276.6,478.4 L277.0,478.2 L277.4,478.0 L277.8,477.8 L278.2,477.6 L278.6,477.5 L279.0,477.3 L279.4,477.3 L279.9,477.2 L280.3,477.2 L280.7,477.2 L281.1,477.3 L281.5,477.3 L281.9,477.4 L282.3,477.5 L282.7,477.6 L283.1,477.8 L283.5,477.9 L283.9,478.1 L284.3,478.2 L284.7,478.4 L285.1,478.6 L285.6,478.8 L286.0,479.0 L286.4,479.2 L286.8,479.4 L287.2,479.6 L287.6,479.8 L288.0,480.0 L288.4,480.2 L288.8,480.4 L289.2,480.5 L289.6,480.7 L290.0,480.9 L290.4,481.0 L290.8,481.1 L291.3,481.2 L291.7,481.3 L292.1,481.3 L292.5,481.4 L292.9,481.4 L293.3,481.4 L293.7,481.3 L294.1,481.3 L294.5,481.2 L294.9,481.0 L295.3,480.9 L295.7,480.7 L296.1,480.5 L296.5,480.3 L297.0,480.1 L297.4,479.8 L297.8,479.6 L298.2,479.3 L298.6,479.0 L299.0,478.7 L299.4,478.5 L299.8,478.2 L300.2,477.9 L300.6,477.6 L301.0,477.3 L301.4,477.0 L301.8,476.7 L302.3,476.5 L302.7,476.2 L303.1,475.9 L303.5,475.7 L303.9,475.5 L304.3,475.3 L304.7,475.1 L305.1,474.9 L305.5,474.8 L305.9,474.7 L306.3,474.6 L306.7,474.5 L307.1,474.5 L307.5,474.5 L308.0,474.5 L308.4,474.5 L308.8,474.6 L309.2,474.6 L309.6,474.7 L310.0,474.7 L310.4,474.8 L310.8,474.9 L311.2,475.0 L311.6,475.0 L312.0,475.1 L312.4,475.2 L312.8,475.3 L313.2,475.4 L313.7,475.5 L314.1,475.6 L314.5,475.7 L314.9,475.8 L315.3,475.9 L315.7,476.0 L316.1,476.0 L316.5,476.1 L316.9,476.2 L317.3,476.3 L317.7,476.3 L318.1,476.4 L318.5,476.4 L318.9,476.5 L319.4,476.5 L319.8,476.5 L320.2,476.5 L320.6,476.5 L321.0,476.4 L321.4,476.3 L321.8,476.3 L322.2,476.1 L322.6,476.0 L323.0,475.8 L323.4,475.6 L323.8,475.5 L324.2,475.2 L324.6,475.0 L325.1,474.8 L325.5,474.5 L325.9,474.2 L326.3,473.9 L326.7,473.6 L327.1,473.3 L327.5,473.0 L327.9,472.7 L328.3,472.4 L328.7,472.1 L329.1,471.7 L329.5,471.4 L329.9,471.0 L330.3,470.7 L330.8,470.4 L331.2,470.0 L331.6,469.7 L332.0,469.4 L332.4,469.0 L332.8,468.7 L333.2,468.4 L333.6,468.1 L334.0,467.8 L334.4,467.5 L334.8,467.2 L335.2,466.9 L335.6,466.7 L336.0,466.4 L336.5,466.2 L336.9,465.9 L337.3,465.7 L337.7,465.4 L338.1,465.1 L338.5,464.9 L338.9,464.6 L339.3,464.4 L339.7,464.1 L340.1,463.8 L340.5,463.6 L340.9,463.3 L341.3,463.1 L341.7,462.8 L342.2,462.6 L342.6,462.3 L343.0,462.0 L343.4,461.8 L343.8,461.5 L344.2,461.2 L344.6,461.0 L345.0,460.7 L345.4,460.5 L345.8,460.2 L346.2,459.9 L346.6,459.7 L347.0,459.4 L347.4,459.1 L347.9,458.9 L348.3,458.6 L348.7,458.3 L349.1,458.0 L349.5,457.7 L349.9,457.4 L350.3,457.1 L350.7,456.8 L351.1,456.6 L351.5,456.3 L351.9,456.0 L352.3,455.7 L352.7,455.4 L353.2,455.1 L353.6,454.8 L354.0,454.5 L354.4,454.3 L354.8,454.0 L355.2,453.7 L355.6,453.5 L356.0,453.2 L356.4,453.0 L356.8,452.7 L357.2,452.5 L357.6,452.3 L358.0,452.1 L358.4,451.9 L358.9,451.7 L359.3,451.5 L359.7,451.3 L360.1,451.2 L360.5,451.0 L360.9,450.8 L361.3,450.7 L361.7,450.5 L362.1,450.4 L362.5,450.2 L362.9,450.1 L363.3,450.0 L363.7,449.8 L364.1,449.7 L364.6,449.6 L365.0,449.4 L365.4,449.3 L365.8,449.2 L366.2,449.1 L366.6,448.9 L367.0,448.8 L367.4,448.7 L367.8,448.6 L368.2,448.4 L368.6,448.3 L369.0,448.2 L369.4,448.0 L369.8,447.9 L370.3,447.8 L370.7,447.6 L371.1,447.5 L371.5,447.3 L371.9,447.2 L372.3,447.0 L372.7,446.9 L373.1,446.7 L373.5,446.5 L373.9,446.4 L374.3,446.2 L374.7,446.0 L375.1,445.8 L375.5,445.6 L376.0,445.4 L376.4,445.2 L376.8,445.0 L377.2,444.7 L377.6,444.5 L378.0,444.3 L378.4,444.0 L378.8,443.8 L379.2,443.5 L379.6,443.3 L380.0,443.0 L380.4,442.8 L380.8,442.5 L381.2,442.3 L381.7,442.0 L382.1,441.7 L382.5,441.4 L382.9,441.2 L383.3,440.9 L383.7,440.6 L384.1,440.3 L384.5,440.0 L384.9,439.8 L385.3,439.5 L385.7,439.2 L386.1,438.9 L386.5,438.6 L386.9,438.3 L387.4,438.0 L387.8,437.7 L388.2,437.5 L388.6,437.2 L389.0,436.9 L389.4,436.6 L389.8,436.3 L390.2,436.0 L390.6,435.8 L391.0,435.5 L391.4,435.2 L391.8,434.9 L392.2,434.7 L392.6,434.4 L393.1,434.1 L393.5,433.8 L393.9,433.5 L394.3,433.3 L394.7,433.0 L395.1,432.7 L395.5,432.4 L395.9,432.1 L396.3,431.8 L396.7,431.5 L397.1,431.3 L397.5,431.0 L397.9,430.7 L398.3,430.3 L398.8,430.0 L399.2,429.7 L399.6,429.4 L400.0,429.1 L400.4,428.7 L400.8,428.4 L401.2,428.1 L401.6,427.7 L402.0,427.4 L402.4,427.0 L402.8,426.7 L403.2,426.3 L403.6,426.0 L404.1,425.6 L404.5,425.2 L404.9,424.9 L405.3,424.5 L405.7,424.1 L406.1,423.7 L406.5,423.3 L406.9,422.9 L407.3,422.5 L407.7,422.1 L408.1,421.7 L408.5,421.3 L408.9,420.9 L409.3,420.5 L409.8,420.0 L410.2,419.6 L410.6,419.2 L411.0,418.7 L411.4,418.3 L411.8,417.8 L412.2,417.3 L412.6,416.8 L413.0,416.4 L413.4,415.9 L413.8,415.4 L414.2,414.8 L414.6,414.3 L415.0,413.7 L415.5,413.1 L415.9,412.5 L416.3,411.9 L416.7,411.2 L417.1,410.6 L417.5,410.0 L417.9,409.4 L418.3,408.8 L418.7,408.2 L419.1,407.6 L419.5,407.0 L419.9,406.3 L420.3,405.7 L420.7,405.1 L421.2,404.4 L421.6,403.7 L422.0,403.1 L422.4,402.4 L422.8,401.6 L423.2,400.9 L423.6,400.1 L424.0,399.3 L424.4,398.5 L424.8,397.6 L425.2,396.7 L425.6,395.8 L426.0,394.8 L426.4,393.8 L426.9,392.8 L427.3,391.7 L427.7,390.6 L428.1,389.4 L428.5,388.3 L428.9,387.1 L429.3,385.8 L429.7,384.6 L430.1,383.3 L430.5,382.0 L430.9,380.7 L431.3,379.4 L431.7,378.0 L432.1,376.7 L432.6,375.3 L433.0,373.9 L433.4,372.4 L433.8,370.9 L434.2,369.3 L434.6,367.7 L435.0,366.1 L435.4,364.4 L435.8,362.7 L436.2,361.0 L436.6,359.2 L437.0,357.4 L437.4,355.6 L437.8,353.8 L438.3,351.9 L438.7,350.0 L439.1,348.1 L439.5,346.1 L439.9,344.1 L440.3,342.0 L440.7,339.9 L441.1,337.7 L441.5,335.4 L441.9,333.1 L442.3,330.7 L442.7,328.2 L443.1,325.6 L443.5,322.9 L444.0,320.2 L444.4,317.2 L444.8,314.2 L445.2,311.0 L445.6,307.5 L446.0,303.8 L446.4,299.8 L446.8,295.7 L447.2,291.5 L447.6,287.2 L448.0,282.9 L448.4,278.7 L448.8,274.5 L449.2,270.5 L449.7,266.6 L450.1,262.9 L450.5,259.2 L450.9,255.4 L451.3,251.4 L451.7,247.2 L452.1,242.6 L452.5,237.6 L452.9,231.8 L453.3,224.7 L453.7,216.6 L454.1,208.5 L454.5,201.0 L455.0,194.2 L455.4,187.5 L455.8,181.2 L456.2,175.3 L456.6,170.2 L457.0,166.1 L457.4,162.4 L457.8,158.6 L458.2,154.5 L458.6,150.4 L459.0,146.4 L459.4,142.5 L459.8,138.9 L460.2,135.2 L460.7,131.8 L461.1,128.8 L461.5,126.1 L461.9,123.7 L462.3,121.4 L462.7,119.5 L463.1,118.0 L463.5,116.8 L463.9,115.7 L464.3,114.6 L464.7,113.6 L465.1,112.8 L465.5,112.0 L465.9,111.5 L466.4,111.2 L466.8,111.1 L467.2,111.2 L467.6,111.6 L468.0,112.1 L468.4,112.8 L468.8,113.5 L469.2,114.4 L469.6,115.4 L470.0,116.4 L470.4,117.4 L470.8,118.4 L471.2,119.7 L471.6,121.2 L472.1,122.8 L472.5,124.6 L472.9,126.5 L473.3,128.3 L473.7,130.1 L474.1,131.9 L474.5,133.8 L474.9,135.7 L475.3,137.6 L475.7,139.5 L476.1,141.5 L476.5,143.4 L476.9,145.3 L477.3,147.2 L477.8,149.0 L478.2,151.0 L478.6,152.9 L479.0,154.9 L479.4,156.9 L479.8,159.0 L480.2,161.1 L480.6,163.3 L481.0,165.5 L481.4,167.8 L481.8,170.1 L482.2,172.6 L482.6,175.2 L483.0,177.8 L483.5,180.5 L483.9,183.2 L484.3,185.9 L484.7,188.6 L485.1,191.1 L485.5,193.5 L485.9,195.9 L486.3,198.1 L486.7,200.4 L487.1,202.6 L487.5,204.8 L487.9,206.9 L488.3,209.1 L488.7,211.1 L489.2,213.2 L489.6,215.3 L490.0,217.3 L490.4,219.4 L490.8,221.4 L491.2,223.5 L491.6,225.5 L492.0,227.4 L492.4,229.4 L492.8,231.3 L493.2,233.3 L493.6,235.2 L494.0,237.1 L494.4,239.0 L494.9,240.9 L495.3,242.8 L495.7,244.7 L496.1,246.6 L496.5,248.6 L496.9,250.6 L497.3,252.6 L497.7,254.6 L498.1,256.7 L498.5,258.8 L498.9,260.9 L499.3,263.0 L499.7,265.0 L500.1,267.1 L500.6,269.1 L501.0,271.1 L501.4,273.1 L501.8,275.0 L502.2,276.9 L502.6,278.7 L503.0,280.6 L503.4,282.4 L503.8,284.2 L504.2,285.9 L504.6,287.7 L505.0,289.5 L505.4,291.2 L505.9,292.9 L506.3,294.6 L506.7,296.3 L507.1,298.0 L507.5,299.8 L507.9,301.5 L508.3,303.2 L508.7,305.0 L509.1,306.8 L509.5,308.6 L509.9,310.3 L510.3,312.1 L510.7,313.8 L511.1,315.6 L511.6,317.2 L512.0,318.9 L512.4,320.5 L512.8,322.0 L513.2,323.5 L513.6,324.9 L514.0,326.2 L514.4,327.4 L514.8,328.6 L515.2,329.7 L515.6,330.7 L516.0,331.7 L516.4,332.7 L516.8,333.6 L517.3,334.5 L517.7,335.4 L518.1,336.3 L518.5,337.1 L518.9,338.0 L519.3,338.8 L519.7,339.6 L520.1,340.4 L520.5,341.3 L520.9,342.1 L521.3,343.0 L521.7,343.8 L522.1,344.6 L522.5,345.4 L523.0,346.2 L523.4,346.9 L523.8,347.7 L524.2,348.5 L524.6,349.2 L525.0,350.0 L525.4,350.8 L525.8,351.6 L526.2,352.5 L526.6,353.3 L527.0,354.2 L527.4,355.1 L527.8,356.1 L528.2,357.1 L528.7,358.1 L529.1,359.1 L529.5,360.1 L529.9,361.2 L530.3,362.3 L530.7,363.4 L531.1,364.5 L531.5,365.6 L531.9,366.7 L532.3,367.8 L532.7,369.0 L533.1,370.1 L533.5,371.4 L533.9,372.7 L534.4,374.0 L534.8,375.3 L535.2,376.6 L535.6,377.9 L536.0,379.2 L536.4,380.4 L536.8,381.5 L537.2,382.5 L537.6,383.3 L538.0,384.2 L538.4,384.9 L538.8,385.7 L539.2,386.4 L539.6,387.1 L540.1,387.7 L540.5,388.4 L540.9,389.0 L541.3,389.6 L541.7,390.2 L542.1,390.8 L542.5,391.3 L542.9,391.9 L543.3,392.4 L543.7,393.0 L544.1,393.5 L544.5,394.1 L544.9,394.7 L545.3,395.2 L545.8,395.7 L546.2,396.2 L546.6,396.7 L547.0,397.2 L547.4,397.7 L547.8,398.2 L548.2,398.7 L548.6,399.2 L549.0,399.7 L549.4,400.2 L549.8,400.7 L550.2,401.2 L550.6,401.7 L551.0,402.3 L551.5,402.8 L551.9,403.4 L552.3,404.0 L552.7,404.6 L553.1,405.2 L553.5,405.8 L553.9,406.5 L554.3,407.1 L554.7,407.7 L555.1,408.3 L555.5,409.0 L555.9,409.6 L556.3,410.2 L556.8,410.9 L557.2,411.5 L557.6,412.1 L558.0,412.7 L558.4,413.4 L558.8,414.0 L559.2,414.6 L559.6,415.2 L560.0,415.9 L560.4,416.5 L560.8,417.0 L561.2,417.6 L561.6,418.2 L562.0,418.8 L562.5,419.4 L562.9,420.0 L563.3,420.6 L563.7,421.2 L564.1,421.7 L564.5,422.2 L564.9,422.6 L565.3,423.0 L565.7,423.3 L566.1,423.6 L566.5,423.9 L566.9,424.1 L567.3,424.4 L567.7,424.6 L568.2,424.8 L568.6,425.0 L569.0,425.2 L569.4,425.4 L569.8,425.6 L570.2,425.9 L570.6,426.1 L571.0,426.4 L571.4,426.7 L571.8,427.1 L572.2,427.4 L572.6,427.8 L573.0,428.2 L573.4,428.6 L573.9,429.0 L574.3,429.4 L574.7,429.9 L575.1,430.3 L575.5,430.7 L575.9,431.2 L576.3,431.6 L576.7,432.1 L577.1,432.5 L577.5,432.9 L577.9,433.3 L578.3,433.7 L578.7,434.2 L579.1,434.6 L579.6,435.0 L580.0,435.5 L580.4,435.9 L580.8,436.4 L581.2,436.8 L581.6,437.2 L582.0,437.6 L582.4,438.0 L582.8,438.4 L583.2,438.7 L583.6,439.1 L584.0,439.4 L584.4,439.7 L584.8,439.9 L585.3,440.2 L585.7,440.4 L586.1,440.7 L586.5,440.9 L586.9,441.1 L587.3,441.3 L587.7,441.5 L588.1,441.7 L588.5,441.9 L588.9,442.1 L589.3,442.3 L589.7,442.6 L590.1,442.8 L590.5,443.0 L591.0,443.3 L591.4,443.5 L591.8,443.8 L592.2,444.1 L592.6,444.4 L593.0,444.7 L593.4,445.0 L593.8,445.3 L594.2,445.6 L594.6,446.0 L595.0,446.3 L595.4,446.7 L595.8,447.0 L596.2,447.4 L596.7,447.7 L597.1,448.1 L597.5,448.4 L597.9,448.8 L598.3,449.1 L598.7,449.4 L599.1,449.7 L599.5,450.1 L599.9,450.4 L600.3,450.8 L600.7,451.1 L601.1,451.5 L601.5,451.8 L601.9,452.2 L602.4,452.5 L602.8,452.9 L603.2,453.2 L603.6,453.5 L604.0,453.8 L604.4,454.1 L604.8,454.4 L605.2,454.6 L605.6,454.8 L606.0,455.0 L606.4,455.2 L606.8,455.3 L607.2,455.4 L607.7,455.5 L608.1,455.6 L608.5,455.7 L608.9,455.8 L609.3,455.8 L609.7,455.9 L610.1,455.9 L610.5,456.0 L610.9,456.1 L611.3,456.1 L611.7,456.2 L612.1,456.2 L612.5,456.3 L612.9,456.4 L613.4,456.4 L613.8,456.5 L614.2,456.6 L614.6,456.7 L615.0,456.8 L615.4,456.8 L615.8,456.9 L616.2,457.0 L616.6,457.1 L617.0,457.2 L617.4,457.3 L617.8,457.4 L618.2,457.5 L618.6,457.6 L619.1,457.7 L619.5,457.8 L619.9,458.0 L620.3,458.1 L620.7,458.2 L621.1,458.4 L621.5,458.6 L621.9,458.8 L622.3,459.0 L622.7,459.2 L623.1,459.4 L623.5,459.7 L623.9,459.9 L624.3,460.2 L624.8,460.5 L625.2,460.7 L625.6,461.0 L626.0,461.2 L626.4,461.5 L626.8,461.7 L627.2,462.0 L627.6,462.2 L628.0,462.4 L628.4,462.7 L628.8,462.9 L629.2,463.2 L629.6,463.4 L630.0,463.7 L630.5,463.9 L630.9,464.1 L631.3,464.3 L631.7,464.5 L632.1,464.7 L632.5,464.9 L632.9,465.0 L633.3,465.1 L633.7,465.2 L634.1,465.3 L634.5,465.3 L634.9,465.4 L635.3,465.5 L635.7,465.5 L636.2,465.6 L636.6,465.7 L637.0,465.7 L637.4,465.8 L637.8,465.8 L638.2,465.8 L638.6,465.9 L639.0,465.9 L639.4,465.9 L639.8,465.9 L640.2,465.9 L640.6,465.9 L641.0,465.9 L641.4,465.8 L641.9,465.8 L642.3,465.8 L642.7,465.7 L643.1,465.7 L643.5,465.6 L643.9,465.5 L644.3,465.5 L644.7,465.4 L645.1,465.4 L645.5,465.3 L645.9,465.2 L646.3,465.2 L646.7,465.1 L647.1,465.1 L647.6,465.1 L648.0,465.0 L648.4,465.0 L648.8,465.0 L649.2,465.0 L649.6,465.0 L650.0,465.1 L650.4,465.2 L650.8,465.3 L651.2,465.5 L651.6,465.7 L652.0,465.9 L652.4,466.1 L652.8,466.4 L653.3,466.6 L653.7,466.9 L654.1,467.2 L654.5,467.5 L654.9,467.8 L655.3,468.1 L655.7,468.4 L656.1,468.7 L656.5,469.0 L656.9,469.3 L657.3,469.6 L657.7,469.8 L658.1,470.1 L658.6,470.3 L659.0,470.5 L659.4,470.7 L659.8,470.9 L660.2,471.1 L660.6,471.2 L661.0,471.2 L661.4,471.3 L661.8,471.3 L662.2,471.3 L662.6,471.3 L663.0,471.3 L663.4,471.3 L663.8,471.2 L664.3,471.2 L664.7,471.2 L665.1,471.1 L665.5,471.1 L665.9,471.1 L666.3,471.0 L666.7,471.0 L667.1,471.0 L667.5,470.9 L667.9,470.9 L668.3,470.8 L668.7,470.8 L669.1,470.7 L669.5,470.7 L670.0,470.7 L670.4,470.6 L670.8,470.6 L671.2,470.5 L671.6,470.5 L672.0,470.5 L672.4,470.5 L672.8,470.4 L673.2,470.4 L673.6,470.4 L674.0,470.4 L674.4,470.4 L674.8,470.4 L675.2,470.5 L675.7,470.6 L676.1,470.7 L676.5,470.9 L676.9,471.1 L677.3,471.4 L677.7,471.6 L678.1,471.9 L678.5,472.2 L678.9,472.5 L679.3,472.9 L679.7,473.2 L680.1,473.6 L680.5,473.9 L680.9,474.3 L681.4,474.6 L681.8,475.0 L682.2,475.3 L682.6,475.6 L683.0,475.9 L683.4,476.2 L683.8,476.5 L684.2,476.8 L684.6,477.0 L685.0,477.2 L685.4,477.4 L685.8,477.5 L686.2,477.6 L686.6,477.7 L687.1,477.7 L687.5,477.7 L687.9,477.7 L688.3,477.6 L688.7,477.6 L689.1,477.5 L689.5,477.4 L689.9,477.3 L690.3,477.3 L690.7,477.2 L691.1,477.1 L691.5,477.0 L691.9,476.9 L692.3,476.7 L692.8,476.6 L693.2,476.6 L693.6,476.5 L694.0,476.4 L694.4,476.3 L694.8,476.2 L695.2,476.2 L695.6,476.1 L696.0,476.1 L696.4,476.1 L696.8,476.1 L697.2,476.2 L697.6,476.3 L698.0,476.4 L698.5,476.6 L698.9,476.8 L699.3,477.1 L699.7,477.3 L700.1,477.6 L700.5,477.9 L700.9,478.2 L701.3,478.5 L701.7,478.9 L702.1,479.2 L702.5,479.5 L702.9,479.8 L703.3,480.1 L703.7,480.4 L704.2,480.6 L704.6,480.8 L705.0,481.0 L705.4,481.2 L705.8,481.4 L706.2,481.4 L706.6,481.5 L707.0,481.5 L707.4,481.5 L707.8,481.5 L708.2,481.5 L708.6,481.5 L709.0,481.4 L709.5,481.4 L709.9,481.4 L710.3,481.4 L710.7,481.4 L711.1,481.3 L711.5,481.3 L711.9,481.3 L712.3,481.2 L712.7,481.2 L713.1,481.2 L713.5,481.1 L713.9,481.1 L714.3,481.0 L714.7,481.0 L715.2,481.0 L715.6,480.9 L716.0,480.9 L716.4,480.8 L716.8,480.8 L717.2,480.8 L717.6,480.7 L718.0,480.7 L718.4,480.7 L718.8,480.6 L719.2,480.6 L719.6,480.6 L720.0,480.5 L720.4,480.5 L720.9,480.5 L721.3,480.5 L721.7,480.4 L722.1,480.4 L722.5,480.4 L722.9,480.4 L723.3,480.4 L723.7,480.4 L724.1,480.4 L724.5,480.4 L724.9,480.4 L725.3,480.4 L725.7,480.4 L726.1,480.4 L726.6,480.4 L727.0,480.4 L727.4,480.5 L727.8,480.5 L728.2,480.5 L728.6,480.5 L729.0,480.5 L729.4,480.5 L729.8,480.6 L730.2,480.6 L730.6,480.6 L731.0,480.6 L731.4,480.7 L731.8,480.7 L732.3,480.7 L732.7,480.7 L733.1,480.8 L733.5,480.8 L733.9,480.8 L734.3,480.9 L734.7,480.9 L735.1,480.9 L735.5,481.0 L735.9,481.0 L736.3,481.0 L736.7,481.1 L737.1,481.1 L737.5,481.2 L738.0,481.2 L738.4,481.3 L738.8,481.4 L739.2,481.5 L739.6,481.7 L740.0,481.8 L740.4,482.0 L740.8,482.2 L741.2,482.4 L741.6,482.6 L742.0,482.8 L742.4,483.0 L742.8,483.2 L743.2,483.4 L743.7,483.6 L744.1,483.8 L744.5,484.0 L744.9,484.2 L745.3,484.4 L745.7,484.6 L746.1,484.8 L746.5,485.0 L746.9,485.2 L747.3,485.3 L747.7,485.5 L748.1,485.6 L748.5,485.7 L748.9,485.8 L749.4,485.9 L749.8,486.0 L750.2,486.0 L750.6,486.0 L751.0,486.0 L751.4,486.0 L751.8,485.9 L752.2,485.9 L752.6,485.8 L753.0,485.7 L753.4,485.6 L753.8,485.5 L754.2,485.4 L754.6,485.3 L755.1,485.1 L755.5,485.0 L755.9,484.8 L756.3,484.7 L756.7,484.5 L757.1,484.3 L757.5,484.2 L757.9,484.0 L758.3,483.8 L758.7,483.6 L759.1,483.5 L759.5,483.3 L759.9,483.1 L760.4,482.9 L760.8,482.8 L761.2,482.6 L761.6,482.5 L762.0,482.3 L762.4,482.2 L762.8,482.1 L763.2,482.0 L763.6,481.9 L764.0,481.8 L764.4,481.7 L764.8,481.6 L765.2,481.6 L765.6,481.5 L766.1,481.5 L766.5,481.5 L766.9,481.5 L767.3,481.5 L767.7,481.5 L768.1,481.6 L768.5,481.6 L768.9,481.6 L769.3,481.7 L769.7,481.7 L770.1,481.8 L770.5,481.9 L770.9,481.9 L771.3,482.0 L771.8,482.1 L772.2,482.1 L772.6,482.2 L773.0,482.3 L773.4,482.4 L773.8,482.5 L774.2,482.5 L774.6,482.6 L775.0,482.7 L775.4,482.8 L775.8,482.9 L776.2,483.0 L776.6,483.1 L777.0,483.2 L777.5,483.3 L777.9,483.4 L778.3,483.5 L778.7,483.6 L779.1,483.6 L779.5,483.7 L779.9,483.8 L780.3,483.9 L780.7,484.0 L781.1,484.1 L781.5,484.2 L781.9,484.3 L782.3,484.5 L782.7,484.6 L783.2,484.7 L783.6,484.8 L784.0,485.0 L784.4,485.1 L784.8,485.2 L785.2,485.3 L785.6,485.4 L786.0,485.5 L786.4,485.6 L786.8,485.7 L787.2,485.8 L787.6,485.9 L788.0,485.9 L788.4,486.0 L788.9,486.0 L789.3,486.0 L789.7,486.1 L790.1,486.1 L790.5,486.1 L790.9,486.1 L791.3,486.2 L791.7,486.2 L792.1,486.2 L792.5,486.2 L792.9,486.2 L793.3,486.2 L793.7,486.3 L794.1,486.3 L794.6,486.3 L795.0,486.3 L795.4,486.3 L795.8,486.3 L796.2,486.3 L796.6,486.3 L797.0,486.4 L797.4,486.4 L797.8,486.4 L798.2,486.4 L798.6,486.4 L799.0,486.4 L799.4,486.4 L799.8,486.4 L800.3,486.4 L800.7,486.5 L801.1,486.5 L801.5,486.5 L801.9,486.5 L802.3,486.5 L802.7,486.5 L803.1,486.5 L803.5,486.5 L803.9,486.6 L804.3,486.6 L804.7,486.6 L805.1,486.6 L805.5,486.6 L806.0,486.7 L806.4,486.7 L806.8,486.7 L807.2,486.7 L807.6,486.8 L808.0,486.8 L808.4,486.9 L808.8,486.9 L809.2,487.0 L809.6,487.0 L810.0,487.1 L810.4,487.1 L810.8,487.2 L811.3,487.3 L811.7,487.4 L812.1,487.4 L812.5,487.5 L812.9,487.6 L813.3,487.7 L813.7,487.8 L814.1,487.9 L814.5,487.9 L814.9,488.0 L815.3,488.1 L815.7,488.2 L816.1,488.3 L816.5,488.4 L817.0,488.5 L817.4,488.5 L817.8,488.6 L818.2,488.7 L818.6,488.8 L819.0,488.8 L819.4,488.9 L819.8,489.0 L820.2,489.0 L820.6,489.1 L821.0,489.2 L821.4,489.2 L821.8,489.2 L822.2,489.3 L822.7,489.3 L823.1,489.4 L823.5,489.4 L823.9,489.4 L824.3,489.4 L824.7,489.4 L825.1,489.4 L825.5,489.4 L825.9,489.3 L826.3,489.3 L826.7,489.2 L827.1,489.2 L827.5,489.1 L827.9,489.0 L828.4,488.9 L828.8,488.8 L829.2,488.7 L829.6,488.6 L830.0,488.4 L830.4,488.3 L830.8,488.2 L831.2,488.0 L831.6,487.9 L832.0,487.7 L832.4,487.6 L832.8,487.4 L833.2,487.3 L833.6,487.1 L834.1,487.0 L834.5,486.8 L834.9,486.7 L835.3,486.5 L835.7,486.4 L836.1,486.2 L836.5,486.1 L836.9,486.0 L837.3,485.8 L837.7,485.7 L838.1,485.6 L838.5,485.5 L838.9,485.4 L839.3,485.3 L839.8,485.2 L840.2,485.1 L840.6,485.1 L841.0,485.0 L841.4,485.0 L841.8,484.9 L842.2,484.9 L842.6,484.9 L843.0,484.9 L843.4,484.9 L843.8,484.9 L844.2,484.9 L844.6,484.9 L845.0,485.0 L845.5,485.0 L845.9,485.0 L846.3,485.0 L846.7,485.1 L847.1,485.1 L847.5,485.1 L847.9,485.2 L848.3,485.2 L848.7,485.3 L849.1,485.3 L849.5,485.3 L849.9,485.4 L850.3,485.5 L850.7,485.5 L851.2,485.6 L851.6,485.6 L852.0,485.7 L852.4,485.7 L852.8,485.8 L853.2,485.9 L853.6,485.9 L854.0,486.0 L854.4,486.1 L854.8,486.1 L855.2,486.2 L855.6,486.3 L856.0,486.3 L856.4,486.4 L856.9,486.5 L857.3,486.5 L857.7,486.6 L858.1,486.7 L858.5,486.7 L858.9,486.8 L859.3,486.9 L859.7,487.0 L860.1,487.0 L860.5,487.1 L860.9,487.2 L861.3,487.3 L861.7,487.4 L862.2,487.5 L862.6,487.6 L863.0,487.7 L863.4,487.9 L863.8,488.0 L864.2,488.2 L864.6,488.3 L865.0,488.4 L865.4,488.6 L865.8,488.7 L866.2,488.8 L866.6,489.0 L867.0,489.1 L867.4,489.2 L867.9,489.2 L868.3,489.3 L868.7,489.4 L869.1,489.4 L869.5,489.4 L869.9,489.4 L870.3,489.3 L870.7,489.3 L871.1,489.1 L871.5,489.0 L871.9,488.9 L872.3,488.7 L872.7,488.5 L873.1,488.3 L873.6,488.1 L874.0,487.8 L874.4,487.6 L874.8,487.3 L875.2,487.1 L875.6,486.9 L876.0,486.6 L876.4,486.4 L876.8,486.2 L877.2,485.9 L877.6,485.7 L878.0,485.5 L878.4,485.4 L878.8,485.2 L879.3,485.1 L879.7,485.0 L880.1,484.9 L880.5,484.9 L880.9,484.9 L881.3,484.9 L881.7,484.9 L882.1,484.9 L882.5,485.0 L882.9,485.0 L883.3,485.0 L883.7,485.0 L884.1,485.1 L884.5,485.1 L885.0,485.2 L885.4,485.2 L885.8,485.3 L886.2,485.3 L886.6,485.4 L887.0,485.4 L887.4,485.5 L887.8,485.5 L888.2,485.6 L888.6,485.6 L889.0,485.7 L889.4,485.7 L889.8,485.8 L890.2,485.8 L890.7,485.9 L891.1,485.9 L891.5,486.0 L891.9,486.0 L892.3,486.0 L892.7,486.1 L893.1,486.1 L893.5,486.1 L893.9,486.1 L894.3,486.2 L894.7,486.2 L895.1,486.2 L895.5,486.3 L895.9,486.3 L896.4,486.3 L896.8,486.4 L897.2,486.4 L897.6,486.4 L898.0,486.5 L898.4,486.5 L898.8,486.5 L899.2,486.5 L899.6,486.6 L900.0,486.6 L900.4,486.6 L900.8,486.6 L901.2,486.7 L901.6,486.7 L902.1,486.7 L902.5,486.8 L902.9,486.8 L903.3,486.8 L903.7,486.8 L904.1,486.9 L904.5,486.9 L904.9,486.9 L905.3,486.9 L905.7,486.9 L906.1,487.0 L906.5,487.0 L906.9,487.0 L907.3,487.0 L907.8,487.1 L908.2,487.1 L908.6,487.1 L909.0,487.1 L909.4,487.1 L909.8,487.1 L910.2,487.2" stroke="#e0000e" stroke-width="3"/>
<path d="M95.8,607.3 L96.2,607.3 L96.6,607.3 L97.0,607.3 L97.4,607.3 L97.8,607.3 L98.2,607.3 L98.7,607.3 L99.1,607.3 L99.5,607.3 L99.9,607.3 L100.3,607.3 L100.7,607.3 L101.1,607.3 L101.5,607.3 L101.9,607.3 L102.3,607.3 L102.7,607.3 L103.1,607.3 L103.5,607.3 L103.9,607.3 L104.4,607.3 L104.8,607.3 L105.2,607.3 L105.6,607.3 L106.0,607.3 L106.4,607.3 L106.8,607.3 L107.2,607.3 L107.6,607.3 L108.0,607.3 L108.4,607.3 L108.8,607.3 L109.2,607.3 L109.6,607.3 L110.1,607.3 L110.5,607.3 L110.9,607.3 L111.3,607.3 L111.7,607.3 L112.1,607.3 L112.5,607.3 L112.9,607.3 L113.3,607.3 L113.7,607.3 L114.1,607.2 L114.5,607.2 L114.9,607.2 L115.3,607.2 L115.8,607.2 L116.2,607.2 L116.6,607.2 L117.0,607.2 L117.4,607.2 L117.8,607.2 L118.2,607.2 L118.6,607.2 L119.0,607.2 L119.4,607.2 L119.8,607.2 L120.2,607.2 L120.6,607.2 L121.0,607.2 L121.5,607.2 L121.9,607.2 L122.3,607.2 L122.7,607.2 L123.1,607.2 L123.5,607.2 L123.9,607.2 L124.3,607.2 L124.7,607.1 L125.1,607.1 L125.5,607.1 L125.9,607.1 L126.3,607.1 L126.7,607.1 L127.2,607.1 L127.6,607.1 L128.0,607.1 L128.4,607.1 L128.8,607.1 L129.2,607.1 L129.6,607.1 L130.0,607.0 L130.4,607.0 L130.8,607.0 L131.2,607.0 L131.6,607.0 L132.0,607.0 L132.4,607.0 L132.9,607.0 L133.3,607.0 L133.7,607.0 L134.1,607.0 L134.5,607.0 L134.9,607.0 L135.3,607.0 L135.7,606.9 L136.1,606.9 L136.5,606.9 L136.9,606.9 L137.3,606.9 L137.7,606.9 L138.1,606.9 L138.6,606.9 L139.0,606.9 L139.4,606.9 L139.8,606.9 L140.2,606.9 L140.6,606.9 L141.0,606.9 L141.4,606.9 L141.8,606.9 L142.2,606.9 L142.6,606.9 L143.0,606.9 L143.4,606.9 L143.8,606.9 L144.3,606.8 L144.7,606.8 L145.1,606.8 L145.5,606.8 L145.9,606.8 L146.3,606.8 L146.7,606.8 L147.1,606.8 L147.5,606.8 L147.9,606.8 L148.3,606.8 L148.7,606.8 L149.1,606.7 L149.6,606.7 L150.0,606.7 L150.4,606.7 L150.8,606.7 L151.2,606.7 L151.6,606.7 L152.0,606.6 L152.4,606.6 L152.8,606.6 L153.2,606.6 L153.6,606.5 L154.0,606.5 L154.4,606.5 L154.8,606.5 L155.3,606.4 L155.7,606.4 L156.1,606.4 L156.5,606.4 L156.9,606.3 L157.3,606.3 L157.7,606.3 L158.1,606.2 L158.5,606.2 L158.9,606.2 L159.3,606.1 L159.7,606.1 L160.1,606.1 L160.5,606.0 L161.0,606.0 L161.4,606.0 L161.8,605.9 L162.2,605.9 L162.6,605.9 L163.0,605.8 L163.4,605.8 L163.8,605.8 L164.2,605.7 L164.6,605.7 L165.0,605.7 L165.4,605.7 L165.8,605.6 L166.2,605.6 L166.7,605.6 L167.1,605.5 L167.5,605.5 L167.9,605.5 L168.3,605.5 L168.7,605.4 L169.1,605.4 L169.5,605.4 L169.9,605.4 L170.3,605.3 L170.7,605.3 L171.1,605.3 L171.5,605.3 L171.9,605.3 L172.4,605.2 L172.8,605.2 L173.2,605.2 L173.6,605.2 L174.0,605.2 L174.4,605.2 L174.8,605.1 L175.2,605.1 L175.6,605.1 L176.0,605.1 L176.4,605.1 L176.8,605.1 L177.2,605.0 L177.6,605.0 L178.1,605.0 L178.5,605.0 L178.9,605.0 L179.3,605.0 L179.7,604.9 L180.1,604.9 L180.5,604.9 L180.9,604.9 L181.3,604.9 L181.7,604.9 L182.1,604.9 L182.5,604.8 L182.9,604.8 L183.3,604.8 L183.8,604.8 L184.2,604.8 L184.6,604.8 L185.0,604.8 L185.4,604.8 L185.8,604.7 L186.2,604.7 L186.6,604.7 L187.0,604.7 L187.4,604.7 L187.8,604.7 L188.2,604.7 L188.6,604.7 L189.0,604.6 L189.5,604.6 L189.9,604.6 L190.3,604.6 L190.7,604.6 L191.1,604.6 L191.5,604.6 L191.9,604.6 L192.3,604.5 L192.7,604.5 L193.1,604.5 L193.5,604.5 L193.9,604.5 L194.3,604.5 L194.7,604.4 L195.2,604.4 L195.6,604.4 L196.0,604.4 L196.4,604.3 L196.8,604.3 L197.2,604.3 L197.6,604.2 L198.0,604.2 L198.4,604.2 L198.8,604.2 L199.2,604.1 L199.6,604.1 L200.0,604.0 L200.5,604.0 L200.9,604.0 L201.3,603.9 L201.7,603.9 L202.1,603.8 L202.5,603.8 L202.9,603.8 L203.3,603.7 L203.7,603.7 L204.1,603.6 L204.5,603.6 L204.9,603.5 L205.3,603.5 L205.7,603.4 L206.2,603.4 L206.6,603.4 L207.0,603.3 L207.4,603.3 L207.8,603.2 L208.2,603.2 L208.6,603.2 L209.0,603.1 L209.4,603.1 L209.8,603.1 L210.2,603.0 L210.6,603.0 L211.0,603.0 L211.4,602.9 L211.9,602.9 L212.3,602.9 L212.7,602.9 L213.1,602.8 L213.5,602.8 L213.9,602.8 L214.3,602.8 L214.7,602.8 L215.1,602.8 L215.5,602.7 L215.9,602.7 L216.3,602.7 L216.7,602.7 L217.1,602.7 L217.6,602.7 L218.0,602.7 L218.4,602.6 L218.8,602.6 L219.2,602.6 L219.6,602.6 L220.0,602.6 L220.4,602.6 L220.8,602.5 L221.2,602.5 L221.6,602.5 L222.0,602.5 L222.4,602.4 L222.8,602.4 L223.3,602.4 L223.7,602.3 L224.1,602.3 L224.5,602.3 L224.9,602.2 L225.3,602.2 L225.7,602.1 L226.1,602.1 L226.5,602.1 L226.9,602.0 L227.3,602.0 L227.7,601.9 L228.1,601.9 L228.5,601.8 L229.0,601.7 L229.4,601.7 L229.8,601.6 L230.2,601.6 L230.6,601.5 L231.0,601.5 L231.4,601.4 L231.8,601.4 L232.2,601.3 L232.6,601.3 L233.0,601.2 L233.4,601.2 L233.8,601.1 L234.2,601.1 L234.7,601.0 L235.1,601.0 L235.5,600.9 L235.9,600.9 L236.3,600.9 L236.7,600.8 L237.1,600.8 L237.5,600.8 L237.9,600.7 L238.3,600.7 L238.7,600.7 L239.1,600.7 L239.5,600.6 L239.9,600.6 L240.4,600.6 L240.8,600.6 L241.2,600.6 L241.6,600.6 L242.0,600.5 L242.4,600.5 L242.8,600.5 L243.2,600.5 L243.6,600.5 L244.0,600.5 L244.4,600.4 L244.8,600.4 L245.2,600.4 L245.6,600.4 L246.1,600.4 L246.5,600.3 L246.9,600.3 L247.3,600.3 L247.7,600.2 L248.1,600.2 L248.5,600.2 L248.9,600.1 L249.3,600.1 L249.7,600.0 L250.1,600.0 L250.5,599.9 L250.9,599.9 L251.4,599.8 L251.8,599.7 L252.2,599.7 L252.6,599.6 L253.0,599.5 L253.4,599.5 L253.8,599.4 L254.2,599.3 L254.6,599.3 L255.0,599.2 L255.4,599.1 L255.8,599.0 L256.2,599.0 L256.6,598.9 L257.1,598.8 L257.5,598.7 L257.9,598.7 L258.3,598.6 L258.7,598.5 L259.1,598.4 L259.5,598.4 L259.9,598.3 L260.3,598.2 L260.7,598.2 L261.1,598.1 L261.5,598.0 L261.9,598.0 L262.3,597.9 L262.8,597.9 L263.2,597.8 L263.6,597.8 L264.0,597.7 L264.4,597.7 L264.8,597.6 L265.2,597.6 L265.6,597.5 L266.0,597.5 L266.4,597.4 L266.8,597.4 L267.2,597.4 L267.6,597.3 L268.0,597.3 L268.5,597.2 L268.9,597.2 L269.3,597.1 L269.7,597.1 L270.1,597.1 L270.5,597.0 L270.9,597.0 L271.3,596.9 L271.7,596.9 L272.1,596.8 L272.5,596.7 L272.9,596.7 L273.3,596.6 L273.7,596.6 L274.2,596.5 L274.6,596.4 L275.0,596.4 L275.4,596.3 L275.8,596.2 L276.2,596.1 L276.6,596.0 L277.0,596.0 L277.4,595.9 L277.8,595.8 L278.2,595.7 L278.6,595.6 L279.0,595.5 L279.4,595.4 L279.9,595.3 L280.3,595.2 L280.7,595.1 L281.1,595.1 L281.5,595.0 L281.9,594.9 L282.3,594.8 L282.7,594.7 L283.1,594.6 L283.5,594.5 L283.9,594.4 L284.3,594.3 L284.7,594.2 L285.1,594.2 L285.6,594.1 L286.0,594.0 L286.4,593.9 L286.8,593.8 L287.2,593.8 L287.6,593.7 L288.0,593.6 L288.4,593.5 L288.8,593.5 L289.2,593.4 L289.6,593.3 L290.0,593.3 L290.4,593.2 L290.8,593.1 L291.3,593.1 L291.7,593.0 L292.1,593.0 L292.5,592.9 L292.9,592.8 L293.3,592.8 L293.7,592.7 L294.1,592.7 L294.5,592.6 L294.9,592.5 L295.3,592.5 L295.7,592.4 L296.1,592.3 L296.5,592.3 L297.0,592.2 L297.4,592.1 L297.8,592.0 L298.2,591.9 L298.6,591.9 L299.0,591.8 L299.4,591.7 L299.8,591.6 L300.2,591.5 L300.6,591.4 L301.0,591.3 L301.4,591.2 L301.8,591.1 L302.3,591.0 L302.7,590.9 L303.1,590.8 L303.5,590.7 L303.9,590.6 L304.3,590.4 L304.7,590.3 L305.1,590.2 L305.5,590.1 L305.9,589.9 L306.3,589.8 L306.7,589.7 L307.1,589.6 L307.5,589.4 L308.0,589.3 L308.4,589.2 L308.8,589.1 L309.2,588.9 L309.6,588.8 L310.0,588.7 L310.4,588.5 L310.8,588.4 L311.2,588.3 L311.6,588.2 L312.0,588.0 L312.4,587.9 L312.8,587.8 L313.2,587.7 L313.7,587.6 L314.1,587.4 L314.5,587.3 L314.9,587.2 L315.3,587.1 L315.7,587.0 L316.1,586.9 L316.5,586.7 L316.9,586.6 L317.3,586.5 L317.7,586.4 L318.1,586.3 L318.5,586.2 L318.9,586.1 L319.4,585.9 L319.8,585.8 L320.2,585.7 L320.6,585.6 L321.0,585.5 L321.4,585.4 L321.8,585.3 L322.2,585.1 L322.6,585.0 L323.0,584.9 L323.4,584.8 L323.8,584.7 L324.2,584.5 L324.6,584.4 L325.1,584.3 L325.5,584.1 L325.9,584.0 L326.3,583.9 L326.7,583.7 L327.1,583.6 L327.5,583.4 L327.9,583.3 L328.3,583.1 L328.7,583.0 L329.1,582.8 L329.5,582.7 L329.9,582.5 L330.3,582.3 L330.8,582.1 L331.2,582.0 L331.6,581.8 L332.0,581.6 L332.4,581.4 L332.8,581.2 L333.2,581.0 L333.6,580.8 L334.0,580.6 L334.4,580.4 L334.8,580.2 L335.2,580.0 L335.6,579.8 L336.0,579.6 L336.5,579.4 L336.9,579.1 L337.3,578.9 L337.7,578.7 L338.1,578.5 L338.5,578.2 L338.9,578.0 L339.3,577.8 L339.7,577.5 L340.1,577.3 L340.5,577.0 L340.9,576.8 L341.3,576.5 L341.7,576.3 L342.2,576.0 L342.6,575.8 L343.0,575.5 L343.4,575.2 L343.8,575.0 L344.2,574.7 L344.6,574.4 L345.0,574.2 L345.4,573.9 L345.8,573.6 L346.2,573.3 L346.6,573.0 L347.0,572.7 L347.4,572.5 L347.9,572.2 L348.3,571.9 L348.7,571.6 L349.1,571.3 L349.5,571.0 L349.9,570.6 L350.3,570.3 L350.7,570.0 L351.1,569.7 L351.5,569.4 L351.9,569.1 L352.3,568.7 L352.7,568.4 L353.2,568.1 L353.6,567.7 L354.0,567.4 L354.4,567.0 L354.8,566.7 L355.2,566.3 L355.6,566.0 L356.0,565.6 L356.4,565.3 L356.8,564.9 L357.2,564.6 L357.6,564.2 L358.0,563.8 L358.4,563.5 L358.9,563.1 L359.3,562.7 L359.7,562.3 L360.1,562.0 L360.5,561.6 L360.9,561.2 L361.3,560.8 L361.7,560.4 L362.1,560.0 L362.5,559.7 L362.9,559.3 L363.3,558.9 L363.7,558.5 L364.1,558.1 L364.6,557.7 L365.0,557.3 L365.4,556.9 L365.8,556.5 L366.2,556.1 L366.6,555.7 L367.0,555.3 L367.4,554.9 L367.8,554.5 L368.2,554.1 L368.6,553.7 L369.0,553.3 L369.4,552.9 L369.8,552.4 L370.3,552.0 L370.7,551.6 L371.1,551.2 L371.5,550.8 L371.9,550.3 L372.3,549.9 L372.7,549.5 L373.1,549.1 L373.5,548.6 L373.9,548.2 L374.3,547.8 L374.7,547.4 L375.1,546.9 L375.5,546.5 L376.0,546.0 L376.4,545.6 L376.8,545.2 L377.2,544.7 L377.6,544.3 L378.0,543.8 L378.4,543.4 L378.8,542.9 L379.2,542.4 L379.6,542.0 L380.0,541.5 L380.4,541.0 L380.8,540.6 L381.2,540.1 L381.7,539.6 L382.1,539.1 L382.5,538.7 L382.9,538.2 L383.3,537.7 L383.7,537.2 L384.1,536.7 L384.5,536.2 L384.9,535.7 L385.3,535.2 L385.7,534.7 L386.1,534.2 L386.5,533.7 L386.9,533.2 L387.4,532.7 L387.8,532.1 L388.2,531.6 L388.6,531.1 L389.0,530.6 L389.4,530.0 L389.8,529.5 L390.2,528.9 L390.6,528.4 L391.0,527.9 L391.4,527.3 L391.8,526.8 L392.2,526.2 L392.6,525.7 L393.1,525.1 L393.5,524.5 L393.9,524.0 L394.3,523.4 L394.7,522.8 L395.1,522.3 L395.5,521.7 L395.9,521.1 L396.3,520.5 L396.7,519.9 L397.1,519.4 L397.5,518.8 L397.9,518.2 L398.3,517.6 L398.8,517.0 L399.2,516.4 L399.6,515.8 L400.0,515.2 L400.4,514.5 L400.8,513.9 L401.2,513.3 L401.6,512.7 L402.0,512.1 L402.4,511.4 L402.8,510.8 L403.2,510.2 L403.6,509.5 L404.1,508.9 L404.5,508.2 L404.9,507.6 L405.3,506.9 L405.7,506.3 L406.1,505.6 L406.5,504.9 L406.9,504.3 L407.3,503.6 L407.7,502.9 L408.1,502.2 L408.5,501.6 L408.9,500.9 L409.3,500.2 L409.8,499.5 L410.2,498.8 L410.6,498.1 L411.0,497.4 L411.4,496.6 L411.8,495.9 L412.2,495.2 L412.6,494.5 L413.0,493.7 L413.4,493.0 L413.8,492.3 L414.2,491.5 L414.6,490.8 L415.0,490.0 L415.5,489.3 L415.9,488.5 L416.3,487.7 L416.7,486.9 L417.1,486.2 L417.5,485.4 L417.9,484.6 L418.3,483.8 L418.7,483.0 L419.1,482.2 L419.5,481.3 L419.9,480.5 L420.3,479.7 L420.7,478.9 L421.2,478.0 L421.6,477.2 L422.0,476.3 L422.4,475.5 L422.8,474.6 L423.2,473.7 L423.6,472.9 L424.0,472.0 L424.4,471.1 L424.8,470.2 L425.2,469.3 L425.6,468.4 L426.0,467.5 L426.4,466.5 L426.9,465.6 L427.3,464.6 L427.7,463.7 L428.1,462.7 L428.5,461.7 L428.9,460.8 L429.3,459.8 L429.7,458.8 L430.1,457.7 L430.5,456.7 L430.9,455.7 L431.3,454.6 L431.7,453.5 L432.1,452.5 L432.6,451.4 L433.0,450.3 L433.4,449.2 L433.8,448.0 L434.2,446.9 L434.6,445.7 L435.0,444.6 L435.4,443.4 L435.8,442.2 L436.2,441.0 L436.6,439.8 L437.0,438.5 L437.4,437.3 L437.8,436.0 L438.3,434.7 L438.7,433.4 L439.1,432.1 L439.5,430.7 L439.9,429.4 L440.3,428.0 L440.7,426.6 L441.1,425.2 L441.5,423.8 L441.9,422.3 L442.3,420.9 L442.7,419.4 L443.1,417.9 L443.5,416.3 L444.0,414.8 L444.4,413.2 L444.8,411.6 L445.2,410.0 L445.6,408.3 L446.0,406.6 L446.4,404.9 L446.8,403.2 L447.2,401.4 L447.6,399.6 L448.0,397.8 L448.4,395.9 L448.8,394.0 L449.2,392.0 L449.7,390.1 L450.1,388.1 L450.5,386.0 L450.9,384.0 L451.3,381.9 L451.7,379.8 L452.1,377.7 L452.5,375.5 L452.9,373.3 L453.3,371.1 L453.7,368.8 L454.1,366.4 L454.5,364.0 L455.0,361.6 L455.4,359.1 L455.8,356.5 L456.2,354.0 L456.6,351.4 L457.0,348.7 L457.4,346.1 L457.8,343.4 L458.2,340.7 L458.6,338.0 L459.0,335.3 L459.4,332.6 L459.8,329.9 L460.2,327.1 L460.7,324.4 L461.1,321.6 L461.5,318.8 L461.9,316.0 L462.3,313.3 L462.7,310.5 L463.1,307.7 L463.5,305.0 L463.9,302.2 L464.3,299.5 L464.7,296.8 L465.1,294.0 L465.5,291.3 L465.9,288.7 L466.4,286.0 L466.8,283.3 L467.2,280.7 L467.6,278.1 L468.0,275.5 L468.4,272.9 L468.8,270.3 L469.2,267.8 L469.6,265.3 L470.0,262.8 L470.4,260.4 L470.8,257.9 L471.2,255.5 L471.6,253.1 L472.1,250.8 L472.5,248.4 L472.9,246.1 L473.3,243.9 L473.7,241.6 L474.1,239.4 L474.5,237.2 L474.9,235.0 L475.3,232.9 L475.7,230.8 L476.1,228.7 L476.5,226.6 L476.9,224.6 L477.3,222.6 L477.8,220.6 L478.2,218.6 L478.6,216.7 L479.0,214.8 L479.4,212.9 L479.8,211.0 L480.2,209.2 L480.6,207.4 L481.0,205.6 L481.4,203.8 L481.8,202.1 L482.2,200.4 L482.6,198.7 L483.0,197.1 L483.5,195.4 L483.9,193.8 L484.3,192.3 L484.7,190.7 L485.1,189.2 L485.5,187.7 L485.9,186.2 L486.3,184.8 L486.7,183.3 L487.1,181.9 L487.5,180.5 L487.9,179.2 L488.3,177.8 L488.7,176.5 L489.2,175.2 L489.6,173.9 L490.0,172.6 L490.4,171.4 L490.8,170.1 L491.2,168.9 L491.6,167.7 L492.0,166.6 L492.4,165.4 L492.8,164.3 L493.2,163.1 L493.6,162.0 L494.0,160.9 L494.4,159.8 L494.9,158.8 L495.3,157.7 L495.7,156.7 L496.1,155.7 L496.5,154.7 L496.9,153.7 L497.3,152.8 L497.7,151.8 L498.1,150.9 L498.5,150.0 L498.9,149.1 L499.3,148.2 L499.7,147.3 L500.1,146.5 L500.6,145.6 L501.0,144.8 L501.4,144.0 L501.8,143.2 L502.2,142.4 L502.6,141.7 L503.0,140.9 L503.4,140.1 L503.8,139.4 L504.2,138.7 L504.6,138.0 L505.0,137.3 L505.4,136.6 L505.9,135.9 L506.3,135.2 L506.7,134.6 L507.1,133.9 L507.5,133.3 L507.9,132.7 L508.3,132.0 L508.7,131.4 L509.1,130.8 L509.5,130.2 L509.9,129.7 L510.3,129.1 L510.7,128.5 L511.1,128.0 L511.6,127.4 L512.0,126.9 L512.4,126.4 L512.8,125.8 L513.2,125.3 L513.6,124.8 L514.0,124.3 L514.4,123.8 L514.8,123.3 L515.2,122.8 L515.6,122.4 L516.0,121.9 L516.4,121.4 L516.8,121.0 L517.3,120.5 L517.7,120.1 L518.1,119.6 L518.5,119.2 L518.9,118.7 L519.3,118.3 L519.7,117.9 L520.1,117.4 L520.5,117.0 L520.9,116.6 L521.3,116.2 L521.7,115.8 L522.1,115.4 L522.5,115.0 L523.0,114.6 L523.4,114.2 L523.8,113.8 L524.2,113.4 L524.6,113.1 L525.0,112.7 L525.4,112.3 L525.8,111.9 L526.2,111.6 L526.6,111.2 L527.0,110.9 L527.4,110.5 L527.8,110.2 L528.2,109.8 L528.7,109.5 L529.1,109.2 L529.5,108.9 L529.9,108.5 L530.3,108.2 L530.7,107.9 L531.1,107.6 L531.5,107.3 L531.9,107.0 L532.3,106.7 L532.7,106.4 L533.1,106.1 L533.5,105.9 L533.9,105.6 L534.4,105.3 L534.8,105.1 L535.2,104.8 L535.6,104.5 L536.0,104.3 L536.4,104.0 L536.8,103.8 L537.2,103.6 L537.6,103.3 L538.0,103.1 L538.4,102.9 L538.8,102.6 L539.2,102.4 L539.6,102.2 L540.1,102.0 L540.5,101.8 L540.9,101.6 L541.3,101.4 L541.7,101.1 L542.1,100.9 L542.5,100.7 L542.9,100.5 L543.3,100.4 L543.7,100.2 L544.1,100.0 L544.5,99.8 L544.9,99.6 L545.3,99.4 L545.8,99.2 L546.2,99.1 L546.6,98.9 L547.0,98.7 L547.4,98.5 L547.8,98.4 L548.2,98.2 L548.6,98.0 L549.0,97.9 L549.4,97.7 L549.8,97.5 L550.2,97.4 L550.6,97.2 L551.0,97.1 L551.5,96.9 L551.9,96.8 L552.3,96.6 L552.7,96.5 L553.1,96.3 L553.5,96.2 L553.9,96.0 L554.3,95.9 L554.7,95.8 L555.1,95.6 L555.5,95.5 L555.9,95.3 L556.3,95.2 L556.8,95.1 L557.2,95.0 L557.6,94.8 L558.0,94.7 L558.4,94.6 L558.8,94.5 L559.2,94.4 L559.6,94.2 L560.0,94.1 L560.4,94.0 L560.8,93.9 L561.2,93.8 L561.6,93.7 L562.0,93.6 L562.5,93.5 L562.9,93.4 L563.3,93.3 L563.7,93.2 L564.1,93.1 L564.5,93.0 L564.9,92.9 L565.3,92.8 L565.7,92.7 L566.1,92.6 L566.5,92.5 L566.9,92.4 L567.3,92.3 L567.7,92.2 L568.2,92.1 L568.6,92.0 L569.0,91.9 L569.4,91.8 L569.8,91.8 L570.2,91.7 L570.6,91.6 L571.0,91.5 L571.4,91.4 L571.8,91.3 L572.2,91.2 L572.6,91.2 L573.0,91.1 L573.4,91.0 L573.9,90.9 L574.3,90.8 L574.7,90.8 L575.1,90.7 L575.5,90.6 L575.9,90.5 L576.3,90.5 L576.7,90.4 L577.1,90.3 L577.5,90.2 L577.9,90.2 L578.3,90.1 L578.7,90.0 L579.1,90.0 L579.6,89.9 L580.0,89.8 L580.4,89.8 L580.8,89.7 L581.2,89.6 L581.6,89.6 L582.0,89.5 L582.4,89.5 L582.8,89.4 L583.2,89.3 L583.6,89.3 L584.0,89.2 L584.4,89.2 L584.8,89.1 L585.3,89.1 L585.7,89.0 L586.1,88.9 L586.5,88.9 L586.9,88.8 L587.3,88.8 L587.7,88.7 L588.1,88.7 L588.5,88.6 L588.9,88.6 L589.3,88.5 L589.7,88.5 L590.1,88.4 L590.5,88.4 L591.0,88.3 L591.4,88.3 L591.8,88.2 L592.2,88.2 L592.6,88.1 L593.0,88.1 L593.4,88.0 L593.8,88.0 L594.2,87.9 L594.6,87.9 L595.0,87.8 L595.4,87.8 L595.8,87.8 L596.2,87.7 L596.7,87.7 L597.1,87.6 L597.5,87.6 L597.9,87.6 L598.3,87.5 L598.7,87.5 L599.1,87.4 L599.5,87.4 L599.9,87.4 L600.3,87.3 L600.7,87.3 L601.1,87.3 L601.5,87.2 L601.9,87.2 L602.4,87.1 L602.8,87.1 L603.2,87.1 L603.6,87.0 L604.0,87.0 L604.4,87.0 L604.8,86.9 L605.2,86.9 L605.6,86.9 L606.0,86.9 L606.4,86.8 L606.8,86.8 L607.2,86.8 L607.7,86.7 L608.1,86.7 L608.5,86.7 L608.9,86.6 L609.3,86.6 L609.7,86.6 L610.1,86.6 L610.5,86.5 L610.9,86.5 L611.3,86.5 L611.7,86.4 L612.1,86.4 L612.5,86.4 L612.9,86.4 L613.4,86.3 L613.8,86.3 L614.2,86.3 L614.6,86.3 L615.0,86.2 L615.4,86.2 L615.8,86.2 L616.2,86.2 L616.6,86.1 L617.0,86.1 L617.4,86.1 L617.8,86.0 L618.2,86.0 L618.6,86.0 L619.1,86.0 L619.5,86.0 L619.9,85.9 L620.3,85.9 L620.7,85.9 L621.1,85.9 L621.5,85.8 L621.9,85.8 L622.3,85.8 L622.7,85.8 L623.1,85.7 L623.5,85.7 L623.9,85.7 L624.3,85.7 L624.8,85.7 L625.2,85.6 L625.6,85.6 L626.0,85.6 L626.4,85.6 L626.8,85.6 L627.2,85.5 L627.6,85.5 L628.0,85.5 L628.4,85.5 L628.8,85.5 L629.2,85.4 L629.6,85.4 L630.0,85.4 L630.5,85.4 L630.9,85.4 L631.3,85.4 L631.7,85.3 L632.1,85.3 L632.5,85.3 L632.9,85.3 L633.3,85.3 L633.7,85.3 L634.1,85.2 L634.5,85.2 L634.9,85.2 L635.3,85.2 L635.7,85.2 L636.2,85.2 L636.6,85.1 L637.0,85.1 L637.4,85.1 L637.8,85.1 L638.2,85.1 L638.6,85.1 L639.0,85.1 L639.4,85.0 L639.8,85.0 L640.2,85.0 L640.6,85.0 L641.0,85.0 L641.4,85.0 L641.9,85.0 L642.3,84.9 L642.7,84.9 L643.1,84.9 L643.5,84.9 L643.9,84.9 L644.3,84.9 L644.7,84.9 L645.1,84.8 L645.5,84.8 L645.9,84.8 L646.3,84.8 L646.7,84.8 L647.1,84.8 L647.6,84.8 L648.0,84.7 L648.4,84.7 L648.8,84.7 L649.2,84.7 L649.6,84.7 L650.0,84.7 L650.4,84.7 L650.8,84.6 L651.2,84.6 L651.6,84.6 L652.0,84.6 L652.4,84.6 L652.8,84.6 L653.3,84.6 L653.7,84.6 L654.1,84.5 L654.5,84.5 L654.9,84.5 L655.3,84.5 L655.7,84.5 L656.1,84.5 L656.5,84.5 L656.9,84.5 L657.3,84.5 L657.7,84.4 L658.1,84.4 L658.6,84.4 L659.0,84.4 L659.4,84.4 L659.8,84.4 L660.2,84.4 L660.6,84.4 L661.0,84.4 L661.4,84.4 L661.8,84.3 L662.2,84.3 L662.6,84.3 L663.0,84.3 L663.4,84.3 L663.8,84.3 L664.3,84.3 L664.7,84.3 L665.1,84.3 L665.5,84.3 L665.9,84.3 L666.3,84.2 L666.7,84.2 L667.1,84.2 L667.5,84.2 L667.9,84.2 L668.3,84.2 L668.7,84.2 L669.1,84.2 L669.5,84.2 L670.0,84.2 L670.4,84.2 L670.8,84.2 L671.2,84.1 L671.6,84.1 L672.0,84.1 L672.4,84.1 L672.8,84.1 L673.2,84.1 L673.6,84.1 L674.0,84.1 L674.4,84.1 L674.8,84.1 L675.2,84.1 L675.7,84.0 L676.1,84.0 L676.5,84.0 L676.9,84.0 L677.3,84.0 L677.7,84.0 L678.1,84.0 L678.5,84.0 L678.9,84.0 L679.3,84.0 L679.7,84.0 L680.1,84.0 L680.5,84.0 L680.9,83.9 L681.4,83.9 L681.8,83.9 L682.2,83.9 L682.6,83.9 L683.0,83.9 L683.4,83.9 L683.8,83.9 L684.2,83.9 L684.6,83.9 L685.0,83.9 L685.4,83.9 L685.8,83.9 L686.2,83.9 L686.6,83.9 L687.1,83.9 L687.5,83.9 L687.9,83.9 L688.3,83.9 L688.7,83.8 L689.1,83.8 L689.5,83.8 L689.9,83.8 L690.3,83.8 L690.7,83.8 L691.1,83.8 L691.5,83.8 L691.9,83.8 L692.3,83.8 L692.8,83.8 L693.2,83.8 L693.6,83.8 L694.0,83.8 L694.4,83.8 L694.8,83.8 L695.2,83.8 L695.6,83.8 L696.0,83.8 L696.4,83.8 L696.8,83.7 L697.2,83.7 L697.6,83.7 L698.0,83.7 L698.5,83.7 L698.9,83.7 L699.3,83.7 L699.7,83.7 L700.1,83.7 L700.5,83.7 L700.9,83.7 L701.3,83.7 L701.7,83.7 L702.1,83.7 L702.5,83.7 L702.9,83.7 L703.3,83.7 L703.7,83.7 L704.2,83.7 L704.6,83.7 L705.0,83.7 L705.4,83.7 L705.8,83.7 L706.2,83.7 L706.6,83.7 L707.0,83.7 L707.4,83.7 L707.8,83.7 L708.2,83.6 L708.6,83.6 L709.0,83.6 L709.5,83.6 L709.9,83.6 L710.3,83.6 L710.7,83.6 L711.1,83.6 L711.5,83.6 L711.9,83.6 L712.3,83.6 L712.7,83.6 L713.1,83.6 L713.5,83.6 L713.9,83.6 L714.3,83.6 L714.7,83.6 L715.2,83.6 L715.6,83.6 L716.0,83.6 L716.4,83.6 L716.8,83.6 L717.2,83.6 L717.6,83.6 L718.0,83.6 L718.4,83.6 L718.8,83.6 L719.2,83.6 L719.6,83.6 L720.0,83.6 L720.4,83.6 L720.9,83.6 L721.3,83.6 L721.7,83.6 L722.1,83.6 L722.5,83.6 L722.9,83.6 L723.3,83.6 L723.7,83.5 L724.1,83.5 L724.5,83.5 L724.9,83.5 L725.3,83.5 L725.7,83.5 L726.1,83.5 L726.6,83.5 L727.0,83.5 L727.4,83.5 L727.8,83.5 L728.2,83.5 L728.6,83.5 L729.0,83.5 L729.4,83.5 L729.8,83.5 L730.2,83.5 L730.6,83.5 L731.0,83.5 L731.4,83.5 L731.8,83.5 L732.3,83.5 L732.7,83.5 L733.1,83.5 L733.5,83.5 L733.9,83.5 L734.3,83.5 L734.7,83.5 L735.1,83.5 L735.5,83.5 L735.9,83.5 L736.3,83.5 L736.7,83.5 L737.1,83.5 L737.5,83.5 L738.0,83.5 L738.4,83.5 L738.8,83.5 L739.2,83.5 L739.6,83.5 L740.0,83.5 L740.4,83.5 L740.8,83.4 L741.2,83.4 L741.6,83.4 L742.0,83.4 L742.4,83.4 L742.8,83.4 L743.2,83.4 L743.7,83.4 L744.1,83.4 L744.5,83.4 L744.9,83.4 L745.3,83.4 L745.7,83.4 L746.1,83.4 L746.5,83.4 L746.9,83.4 L747.3,83.4 L747.7,83.4 L748.1,83.4 L748.5,83.4 L748.9,83.4 L749.4,83.4 L749.8,83.4 L750.2,83.4 L750.6,83.4 L751.0,83.4 L751.4,83.4 L751.8,83.4 L752.2,83.4 L752.6,83.4 L753.0,83.4 L753.4,83.4 L753.8,83.4 L754.2,83.4 L754.6,83.4 L755.1,83.4 L755.5,83.4 L755.9,83.4 L756.3,83.4 L756.7,83.4 L757.1,83.4 L757.5,83.4 L757.9,83.4 L758.3,83.4 L758.7,83.4 L759.1,83.4 L759.5,83.4 L759.9,83.4 L760.4,83.4 L760.8,83.4 L761.2,83.4 L761.6,83.4 L762.0,83.4 L762.4,83.4 L762.8,83.4 L763.2,83.4 L763.6,83.4 L764.0,83.4 L764.4,83.4 L764.8,83.4 L765.2,83.4 L765.6,83.4 L766.1,83.4 L766.5,83.4 L766.9,83.4 L767.3,83.4 L767.7,83.4 L768.1,83.4 L768.5,83.4 L768.9,83.4 L769.3,83.4 L769.7,83.4 L770.1,83.4 L770.5,83.4 L770.9,83.4 L771.3,83.4 L771.8,83.4 L772.2,83.4 L772.6,83.4 L773.0,83.4 L773.4,83.4 L773.8,83.4 L774.2,83.4 L774.6,83.3 L775.0,83.3 L775.4,83.3 L775.8,83.3 L776.2,83.3 L776.6,83.3 L777.0,83.3 L777.5,83.3 L777.9,83.3 L778.3,83.3 L778.7,83.3 L779.1,83.3 L779.5,83.3 L779.9,83.3 L780.3,83.3 L780.7,83.3 L781.1,83.3 L781.5,83.3 L781.9,83.3 L782.3,83.3 L782.7,83.3 L783.2,83.3 L783.6,83.3 L784.0,83.3 L784.4,83.3 L784.8,83.3 L785.2,83.3 L785.6,83.3 L786.0,83.3 L786.4,83.3 L786.8,83.3 L787.2,83.3 L787.6,83.3 L788.0,83.3 L788.4,83.3 L788.9,83.3 L789.3,83.3 L789.7,83.3 L790.1,83.3 L790.5,83.3 L790.9,83.3 L791.3,83.3 L791.7,83.3 L792.1,83.3 L792.5,83.3 L792.9,83.3 L793.3,83.3 L793.7,83.3 L794.1,83.3 L794.6,83.3 L795.0,83.3 L795.4,83.3 L795.8,83.3 L796.2,83.3 L796.6,83.3 L797.0,83.3 L797.4,83.3 L797.8,83.3 L798.2,83.3 L798.6,83.3 L799.0,83.3 L799.4,83.3 L799.8,83.3 L800.3,83.3 L800.7,83.3 L801.1,83.3 L801.5,83.3 L801.9,83.3 L802.3,83.3 L802.7,83.3 L803.1,83.3 L803.5,83.3 L803.9,83.3 L804.3,83.3 L804.7,83.3 L805.1,83.3 L805.5,83.3 L806.0,83.3 L806.4,83.3 L806.8,83.3 L807.2,83.3 L807.6,83.3 L808.0,83.3 L808.4,83.3 L808.8,83.3 L809.2,83.3 L809.6,83.3 L810.0,83.3 L810.4,83.3 L810.8,83.3 L811.3,83.3 L811.7,83.3 L812.1,83.3 L812.5,83.3 L812.9,83.3 L813.3,83.3 L813.7,83.3 L814.1,83.3 L814.5,83.3 L814.9,83.3 L815.3,83.3 L815.7,83.3 L816.1,83.3 L816.5,83.3 L817.0,83.3 L817.4,83.3 L817.8,83.3 L818.2,83.3 L818.6,83.3 L819.0,83.3 L819.4,83.3 L819.8,83.3 L820.2,83.3 L820.6,83.3 L821.0,83.3 L821.4,83.3 L821.8,83.3 L822.2,83.3 L822.7,83.3 L823.1,83.3 L823.5,83.3 L823.9,83.3 L824.3,83.3 L824.7,83.3 L825.1,83.3 L825.5,83.3 L825.9,83.3 L826.3,83.3 L826.7,83.3 L827.1,83.3 L827.5,83.3 L827.9,83.3 L828.4,83.3 L828.8,83.3 L829.2,83.3 L829.6,83.3 L830.0,83.3 L830.4,83.3 L830.8,83.3 L831.2,83.3 L831.6,83.3 L832.0,83.3 L832.4,83.3 L832.8,83.3 L833.2,83.3 L833.6,83.3 L834.1,83.3 L834.5,83.3 L834.9,83.3 L835.3,83.3 L835.7,83.3 L836.1,83.3 L836.5,83.3 L836.9,83.3 L837.3,83.3 L837.7,83.3 L838.1,83.3 L838.5,83.3 L838.9,83.3 L839.3,83.3 L839.8,83.3 L840.2,83.3 L840.6,83.3 L841.0,83.3 L841.4,83.3 L841.8,83.3 L842.2,83.3 L842.6,83.3 L843.0,83.3 L843.4,83.3 L843.8,83.3 L844.2,83.3 L844.6,83.3 L845.0,83.3 L845.5,83.3 L845.9,83.3 L846.3,83.3 L846.7,83.3 L847.1,83.3 L847.5,83.3 L847.9,83.3 L848.3,83.3 L848.7,83.3 L849.1,83.3 L849.5,83.3 L849.9,83.3 L850.3,83.3 L850.7,83.3 L851.2,83.3 L851.6,83.3 L852.0,83.3 L852.4,83.3 L852.8,83.3 L853.2,83.3 L853.6,83.3 L854.0,83.3 L854.4,83.3 L854.8,83.3 L855.2,83.3 L855.6,83.3 L856.0,83.3 L856.4,83.3 L856.9,83.3 L857.3,83.3 L857.7,83.3 L858.1,83.3 L858.5,83.3 L858.9,83.3 L859.3,83.3 L859.7,83.3 L860.1,83.3 L860.5,83.3 L860.9,83.3 L861.3,83.3 L861.7,83.3 L862.2,83.3 L862.6,83.3 L863.0,83.3 L863.4,83.3 L863.8,83.3 L864.2,83.3 L864.6,83.3 L865.0,83.3 L865.4,83.3 L865.8,83.3 L866.2,83.3 L866.6,83.3 L867.0,83.3 L867.4,83.3 L867.9,83.3 L868.3,83.3 L868.7,83.3 L869.1,83.3 L869.5,83.3 L869.9,83.3 L870.3,83.3 L870.7,83.3 L871.1,83.3 L871.5,83.3 L871.9,83.3 L872.3,83.3 L872.7,83.3 L873.1,83.3 L873.6,83.3 L874.0,83.3 L874.4,83.3 L874.8,83.3 L875.2,83.3 L875.6,83.3 L876.0,83.3 L876.4,83.3 L876.8,83.3 L877.2,83.3 L877.6,83.3 L878.0,83.3 L878.4,83.3 L878.8,83.3 L879.3,83.3 L879.7,83.3 L880.1,83.3 L880.5,83.3 L880.9,83.3 L881.3,83.3 L881.7,83.3 L882.1,83.3 L882.5,83.3 L882.9,83.3 L883.3,83.3 L883.7,83.3 L884.1,83.3 L884.5,83.3 L885.0,83.3 L885.4,83.3 L885.8,83.3 L886.2,83.3 L886.6,83.3 L887.0,83.3 L887.4,83.3 L887.8,83.3 L888.2,83.3 L888.6,83.3 L889.0,83.3 L889.4,83.3 L889.8,83.3 L890.2,83.3 L890.7,83.3 L891.1,83.3 L891.5,83.3 L891.9,83.3 L892.3,83.3 L892.7,83.3 L893.1,83.3 L893.5,83.3 L893.9,83.3 L894.3,83.3 L894.7,83.3 L895.1,83.3 L895.5,83.3 L895.9,83.3 L896.4,83.3 L896.8,83.3 L897.2,83.3 L897.6,83.3 L898.0,83.3 L898.4,83.3 L898.8,83.3 L899.2,83.3 L899.6,83.3 L900.0,83.3 L900.4,83.3 L900.8,83.3 L901.2,83.2 L901.6,83.2 L902.1,83.2 L902.5,83.2 L902.9,83.2 L903.3,83.2 L903.7,83.2 L904.1,83.2 L904.5,83.2 L904.9,83.2 L905.3,83.2 L905.7,83.2 L906.1,83.2 L906.5,83.2 L906.9,83.2 L907.3,83.2 L907.8,83.2 L908.2,83.2 L908.6,83.2 L909.0,83.2 L909.4,83.2 L909.8,83.2 L910.2,83.2" stroke="#000098" stroke-width="3.5" stroke-linecap="round" stroke-dasharray="0 6.0"/>
</g>
<g font-family="Liberation Sans" font-size="30" fill="#000">
<text x="75.6" y="616.00" text-anchor="end">-10</text>
<text x="75.6" y="497.14" text-anchor="end">0</text>
<text x="75.6" y="378.28" text-anchor="end">10</text>
<text x="75.6" y="259.42" text-anchor="end">20</text>
<text x="75.6" y="140.56" text-anchor="end">30</text>
<text x="75.6" y="21.70" text-anchor="end">40</text>
<text x="923.2" y="616.00">0</text>
<text x="923.2" y="497.14">100</text>
<text x="923.2" y="378.28">200</text>
<text x="923.2" y="259.42">300</text>
<text x="923.2" y="140.56">400</text>
<text x="923.2" y="21.70">500</text>
<text x="95.80" y="650.6" text-anchor="middle">0</text>
<text x="177.24" y="650.6" text-anchor="middle">1</text>
<text x="258.68" y="650.6" text-anchor="middle">2</text>
<text x="340.12" y="650.6" text-anchor="middle">3</text>
<text x="421.56" y="650.6" text-anchor="middle">4</text>
<text x="503.00" y="650.6" text-anchor="middle">5</text>
<text x="584.44" y="650.6" text-anchor="middle">6</text>
<text x="665.88" y="650.6" text-anchor="middle">7</text>
<text x="747.32" y="650.6" text-anchor="middle">8</text>
<text x="828.76" y="650.6" text-anchor="middle">9</text>
<text x="910.20" y="650.6" text-anchor="middle">10</text>
</g>
<g font-family="Liberation Sans" font-size="35" fill="#000">
<text x="435" y="684.8">Time, μs</text>
<text transform="translate(27.6,504) rotate(-90)">Current, kA</text>
<text transform="translate(27.6,297.3) rotate(-90)">Voltage, kV</text>
<text transform="translate(1014.9,496.2) rotate(-90)">Power, MW</text>
<text transform="translate(1014.9,267.7) rotate(-90)">Energy, J</text>
</g>
<rect x="652.3" y="125.3" width="222.7" height="156.1" fill="#fff" stroke="#686868" stroke-width="1.3"/>
<path d="M675.6,144.4H701.6 M717.6,144.4H743.9" stroke="#000" stroke-width="3"/>
<rect x="702.9" y="137.6" width="13.3" height="13.4" fill="#000"/>
<path d="M675.6,180.5H743.9" stroke="#e0000e" stroke-width="3"/>
<path d="M675.7,220.1H740" stroke="#000098" stroke-width="3.4" stroke-linecap="round" stroke-dasharray="0 6.16"/>
<path d="M674.2,258H743" stroke="#ee88ee" stroke-width="3" stroke-dasharray="15.5 15.3"/>
<g font-family="Liberation Sans" font-size="30" fill="#000">
<text x="750.5" y="154.2">Current</text>
<text x="750.5" y="190.3">Voltage</text>
<text x="750.5" y="229.6">Energy</text>
<text x="750.5" y="267.5">Power</text>
</g>
</svg>
</body></html>
